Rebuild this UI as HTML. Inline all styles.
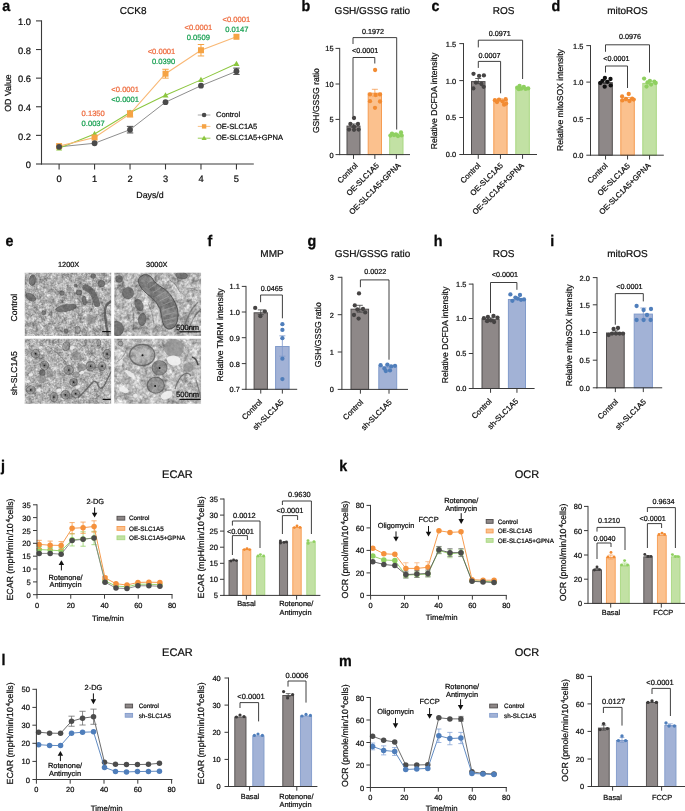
<!DOCTYPE html>
<html><head><meta charset="utf-8"><title>Figure</title>
<style>html,body{margin:0;padding:0;background:#fff;}svg{display:block;will-change:transform;opacity:0.999;font-family:"Liberation Sans",sans-serif;}text{white-space:pre;text-rendering:geometricPrecision;}</style>
</head><body>
<svg width="685" height="811" viewBox="0 0 685 811">
<rect x="0" y="0" width="685" height="811" fill="#ffffff"/>
<text transform="translate(2.2 11.2) scale(0.93 1)" font-size="15.4" font-weight="bold" fill="#0a0a0a" stroke="#0a0a0a" stroke-width="0.3">a</text>
<text transform="translate(301.5 11.2) scale(0.93 1)" font-size="15.4" font-weight="bold" fill="#0a0a0a" stroke="#0a0a0a" stroke-width="0.3">b</text>
<text transform="translate(431.5 11.2) scale(0.93 1)" font-size="15.4" font-weight="bold" fill="#0a0a0a" stroke="#0a0a0a" stroke-width="0.3">c</text>
<text transform="translate(551.5 11.2) scale(0.93 1)" font-size="15.4" font-weight="bold" fill="#0a0a0a" stroke="#0a0a0a" stroke-width="0.3">d</text>
<text transform="translate(5.5 246.2) scale(0.93 1)" font-size="15.4" font-weight="bold" fill="#0a0a0a" stroke="#0a0a0a" stroke-width="0.3">e</text>
<text transform="translate(207.5 246.2) scale(0.93 1)" font-size="15.4" font-weight="bold" fill="#0a0a0a" stroke="#0a0a0a" stroke-width="0.3">f</text>
<text transform="translate(307.5 246.2) scale(0.93 1)" font-size="15.4" font-weight="bold" fill="#0a0a0a" stroke="#0a0a0a" stroke-width="0.3">g</text>
<text transform="translate(433.8 246.2) scale(0.93 1)" font-size="15.4" font-weight="bold" fill="#0a0a0a" stroke="#0a0a0a" stroke-width="0.3">h</text>
<text transform="translate(550.3 246.2) scale(0.93 1)" font-size="15.4" font-weight="bold" fill="#0a0a0a" stroke="#0a0a0a" stroke-width="0.3">i</text>
<text transform="translate(0.9 471.2) scale(0.93 1)" font-size="15.4" font-weight="bold" fill="#0a0a0a" stroke="#0a0a0a" stroke-width="0.3">j</text>
<text transform="translate(339.3 470.8) scale(0.93 1)" font-size="15.4" font-weight="bold" fill="#0a0a0a" stroke="#0a0a0a" stroke-width="0.3">k</text>
<text transform="translate(1.6 665.2) scale(0.93 1)" font-size="15.4" font-weight="bold" fill="#0a0a0a" stroke="#0a0a0a" stroke-width="0.3">l</text>
<text transform="translate(338.9 666) scale(0.93 1)" font-size="15.4" font-weight="bold" fill="#0a0a0a" stroke="#0a0a0a" stroke-width="0.3">m</text>
<text x="133.2" y="13.6" font-size="10" text-anchor="middle" fill="#0d0d0d" stroke="#0d0d0d" stroke-width="0.22" >CCK8</text>
<line x1="41.5" y1="20.35" x2="41.5" y2="164.55" stroke="#3a3a3a" stroke-width="1.1" />
<line x1="36" y1="20.9" x2="41.5" y2="20.9" stroke="#3a3a3a" stroke-width="1.1" />
<text x="31" y="25.15" font-size="9.3" text-anchor="end" fill="#0d0d0d" stroke="#0d0d0d" stroke-width="0.22" >1.0</text>
<line x1="36" y1="49.52" x2="41.5" y2="49.52" stroke="#3a3a3a" stroke-width="1.1" />
<text x="31" y="53.77" font-size="9.3" text-anchor="end" fill="#0d0d0d" stroke="#0d0d0d" stroke-width="0.22" >0.8</text>
<line x1="36" y1="78.14" x2="41.5" y2="78.14" stroke="#3a3a3a" stroke-width="1.1" />
<text x="31" y="82.39" font-size="9.3" text-anchor="end" fill="#0d0d0d" stroke="#0d0d0d" stroke-width="0.22" >0.6</text>
<line x1="36" y1="106.76" x2="41.5" y2="106.76" stroke="#3a3a3a" stroke-width="1.1" />
<text x="31" y="111.01" font-size="9.3" text-anchor="end" fill="#0d0d0d" stroke="#0d0d0d" stroke-width="0.22" >0.4</text>
<line x1="36" y1="135.38" x2="41.5" y2="135.38" stroke="#3a3a3a" stroke-width="1.1" />
<text x="31" y="139.63" font-size="9.3" text-anchor="end" fill="#0d0d0d" stroke="#0d0d0d" stroke-width="0.22" >0.2</text>
<line x1="36" y1="164" x2="41.5" y2="164" stroke="#3a3a3a" stroke-width="1.1" />
<text x="31" y="168.25" font-size="9.3" text-anchor="end" fill="#0d0d0d" stroke="#0d0d0d" stroke-width="0.22" >0</text>
<line x1="40.95" y1="164" x2="253.8" y2="164" stroke="#3a3a3a" stroke-width="1.1" />
<line x1="59.1" y1="164" x2="59.1" y2="169.5" stroke="#3a3a3a" stroke-width="1.1" />
<text x="59.1" y="182.2" font-size="9.3" text-anchor="middle" fill="#0d0d0d" stroke="#0d0d0d" stroke-width="0.22" >0</text>
<line x1="94.57" y1="164" x2="94.57" y2="169.5" stroke="#3a3a3a" stroke-width="1.1" />
<text x="94.57" y="182.2" font-size="9.3" text-anchor="middle" fill="#0d0d0d" stroke="#0d0d0d" stroke-width="0.22" >1</text>
<line x1="130.04" y1="164" x2="130.04" y2="169.5" stroke="#3a3a3a" stroke-width="1.1" />
<text x="130.04" y="182.2" font-size="9.3" text-anchor="middle" fill="#0d0d0d" stroke="#0d0d0d" stroke-width="0.22" >2</text>
<line x1="165.51" y1="164" x2="165.51" y2="169.5" stroke="#3a3a3a" stroke-width="1.1" />
<text x="165.51" y="182.2" font-size="9.3" text-anchor="middle" fill="#0d0d0d" stroke="#0d0d0d" stroke-width="0.22" >3</text>
<line x1="200.98" y1="164" x2="200.98" y2="169.5" stroke="#3a3a3a" stroke-width="1.1" />
<text x="200.98" y="182.2" font-size="9.3" text-anchor="middle" fill="#0d0d0d" stroke="#0d0d0d" stroke-width="0.22" >4</text>
<line x1="236.45" y1="164" x2="236.45" y2="169.5" stroke="#3a3a3a" stroke-width="1.1" />
<text x="236.45" y="182.2" font-size="9.3" text-anchor="middle" fill="#0d0d0d" stroke="#0d0d0d" stroke-width="0.22" >5</text>
<text x="150" y="197.7" font-size="8.8" text-anchor="middle" fill="#0d0d0d" stroke="#0d0d0d" stroke-width="0.22" >Days/d</text>
<text x="11" y="93" font-size="8.8" text-anchor="middle" fill="#0d0d0d" stroke="#0d0d0d" stroke-width="0.22" transform="rotate(-90 11 93)" >OD Value</text>
<polyline points="59.1,146.83 94.57,143.25 130.04,129.66 165.51,102.18 200.98,85.72 236.45,71.27" fill="none" stroke="#8e8e8e" stroke-width="1.0"/>
<polyline points="59.1,148.26 94.57,133.95 130.04,112.48 165.51,95.31 200.98,79.86 236.45,63.83" fill="none" stroke="#8cc63f" stroke-width="1.05"/>
<polyline points="59.1,146.11 94.57,137.53 130.04,113.92 165.51,73.7 200.98,50.24 236.45,36.78" fill="none" stroke="#f9b875" stroke-width="1.1"/>
<line x1="130.04" y1="126.36" x2="130.04" y2="132.95" stroke="#4a4a4a" stroke-width="1" />
<line x1="126.84" y1="126.36" x2="133.24" y2="126.36" stroke="#4a4a4a" stroke-width="1" />
<line x1="126.84" y1="132.95" x2="133.24" y2="132.95" stroke="#4a4a4a" stroke-width="1" />
<line x1="236.45" y1="68.12" x2="236.45" y2="74.42" stroke="#4a4a4a" stroke-width="1" />
<line x1="233.25" y1="68.12" x2="239.65" y2="68.12" stroke="#4a4a4a" stroke-width="1" />
<line x1="233.25" y1="74.42" x2="239.65" y2="74.42" stroke="#4a4a4a" stroke-width="1" />
<line x1="130.04" y1="110.77" x2="130.04" y2="117.06" stroke="#f5a344" stroke-width="1" />
<line x1="126.84" y1="110.77" x2="133.24" y2="110.77" stroke="#f5a344" stroke-width="1" />
<line x1="126.84" y1="117.06" x2="133.24" y2="117.06" stroke="#f5a344" stroke-width="1" />
<line x1="165.51" y1="69.27" x2="165.51" y2="78.14" stroke="#f5a344" stroke-width="1" />
<line x1="162.31" y1="69.27" x2="168.71" y2="69.27" stroke="#f5a344" stroke-width="1" />
<line x1="162.31" y1="78.14" x2="168.71" y2="78.14" stroke="#f5a344" stroke-width="1" />
<line x1="200.98" y1="44.51" x2="200.98" y2="55.96" stroke="#f5a344" stroke-width="1" />
<line x1="197.78" y1="44.51" x2="204.18" y2="44.51" stroke="#f5a344" stroke-width="1" />
<line x1="197.78" y1="55.96" x2="204.18" y2="55.96" stroke="#f5a344" stroke-width="1" />
<polygon points="59.1,145.16 56.1,150.46 62.1,150.46" fill="#8cc63f"/>
<polygon points="94.57,130.85 91.57,136.15 97.57,136.15" fill="#8cc63f"/>
<polygon points="130.04,109.38 127.04,114.68 133.04,114.68" fill="#8cc63f"/>
<polygon points="165.51,92.21 162.51,97.51 168.51,97.51" fill="#8cc63f"/>
<polygon points="200.98,76.76 197.98,82.06 203.98,82.06" fill="#8cc63f"/>
<polygon points="236.45,60.73 233.45,66.03 239.45,66.03" fill="#8cc63f"/>
<rect x="56.1" y="143.11" width="6" height="6" fill="#f5a344" />
<rect x="91.57" y="134.53" width="6" height="6" fill="#f5a344" />
<rect x="127.04" y="110.92" width="6" height="6" fill="#f5a344" />
<rect x="162.51" y="70.7" width="6" height="6" fill="#f5a344" />
<rect x="197.98" y="47.24" width="6" height="6" fill="#f5a344" />
<rect x="233.45" y="33.78" width="6" height="6" fill="#f5a344" />
<circle cx="59.1" cy="146.83" r="2.9" fill="#4a4a4a"/>
<circle cx="94.57" cy="143.25" r="2.9" fill="#4a4a4a"/>
<circle cx="130.04" cy="129.66" r="2.9" fill="#4a4a4a"/>
<circle cx="165.51" cy="102.18" r="2.9" fill="#4a4a4a"/>
<circle cx="200.98" cy="85.72" r="2.9" fill="#4a4a4a"/>
<circle cx="236.45" cy="71.27" r="2.9" fill="#4a4a4a"/>
<text x="93.2" y="116" font-size="7.6" text-anchor="middle" fill="#ee6a3c" stroke="#ee6a3c" stroke-width="0.22" >0.1350</text>
<text x="93.2" y="126.2" font-size="7.6" text-anchor="middle" fill="#159f50" stroke="#159f50" stroke-width="0.22" >0.0037</text>
<text x="125.2" y="91.6" font-size="7.6" text-anchor="middle" fill="#ee6a3c" stroke="#ee6a3c" stroke-width="0.22" >&lt;0.0001</text>
<text x="125.2" y="101.8" font-size="7.6" text-anchor="middle" fill="#159f50" stroke="#159f50" stroke-width="0.22" >&lt;0.0001</text>
<text x="161.5" y="53.7" font-size="7.6" text-anchor="middle" fill="#ee6a3c" stroke="#ee6a3c" stroke-width="0.22" >&lt;0.0001</text>
<text x="163.5" y="64" font-size="7.6" text-anchor="middle" fill="#159f50" stroke="#159f50" stroke-width="0.22" >0.0390</text>
<text x="198.4" y="29.7" font-size="7.6" text-anchor="middle" fill="#ee6a3c" stroke="#ee6a3c" stroke-width="0.22" >&lt;0.0001</text>
<text x="198.4" y="39.8" font-size="7.6" text-anchor="middle" fill="#159f50" stroke="#159f50" stroke-width="0.22" >0.0509</text>
<text x="236.3" y="22" font-size="7.6" text-anchor="middle" fill="#ee6a3c" stroke="#ee6a3c" stroke-width="0.22" >&lt;0.0001</text>
<text x="236.8" y="32.1" font-size="7.6" text-anchor="middle" fill="#159f50" stroke="#159f50" stroke-width="0.22" >0.0147</text>
<line x1="197.8" y1="115" x2="210.4" y2="115" stroke="#9c9c9c" stroke-width="0.9" />
<circle cx="204.1" cy="115" r="2.3" fill="#4a4a4a"/>
<text x="216" y="117.2" font-size="7.5" text-anchor="start" fill="#0d0d0d" stroke="#0d0d0d" stroke-width="0.22" >Control</text>
<line x1="197.8" y1="126.4" x2="210.4" y2="126.4" stroke="#f9b875" stroke-width="0.9" />
<rect x="201.9" y="124.2" width="4.4" height="4.4" fill="#f5a344" />
<text x="216" y="128.6" font-size="7.5" text-anchor="start" fill="#0d0d0d" stroke="#0d0d0d" stroke-width="0.22" >OE-SLC1A5</text>
<line x1="197.8" y1="138.2" x2="210.4" y2="138.2" stroke="#8cc63f" stroke-width="0.9" />
<polygon points="204.1,135.5 201.5,140.1 206.7,140.1" fill="#8cc63f"/>
<text x="216" y="140.4" font-size="7.5" text-anchor="start" fill="#0d0d0d" stroke="#0d0d0d" stroke-width="0.22" >OE-SLC1A5+GPNA</text>
<text x="372.4" y="13.6" font-size="10" text-anchor="middle" fill="#0d0d0d" stroke="#0d0d0d" stroke-width="0.22" >GSH/GSSG ratio</text>
<text x="319" y="100.6" font-size="8.6" text-anchor="middle" fill="#0d0d0d" stroke="#0d0d0d" stroke-width="0.22" transform="rotate(-90 319 100.6)" >GSH/GSSG ratio</text>
<rect x="347" y="126.1" width="13" height="28.5" fill="#8e8888" stroke="#4f4c4c" stroke-width="1" />
<line x1="353.5" y1="124" x2="353.5" y2="127.2" stroke="#3a3a3a" stroke-width="0.8" />
<line x1="350.5" y1="124" x2="356.5" y2="124" stroke="#3a3a3a" stroke-width="0.8" />
<line x1="350.5" y1="127.2" x2="356.5" y2="127.2" stroke="#3a3a3a" stroke-width="0.8" />
<circle cx="354" cy="118" r="2.15" fill="#454343"/>
<circle cx="350.4" cy="124" r="2.15" fill="#454343"/>
<circle cx="358" cy="124" r="2.15" fill="#454343"/>
<circle cx="354" cy="126.6" r="2.15" fill="#454343"/>
<circle cx="349" cy="129.6" r="2.15" fill="#454343"/>
<circle cx="354" cy="129.8" r="2.15" fill="#454343"/>
<circle cx="358.6" cy="129.6" r="2.15" fill="#454343"/>
<rect x="368.2" y="93.2" width="13.3" height="61.4" fill="#fbc18e" stroke="#f69c52" stroke-width="1" />
<line x1="374.85" y1="89.3" x2="374.85" y2="96.1" stroke="#f69c52" stroke-width="0.8" />
<line x1="371.85" y1="89.3" x2="377.85" y2="89.3" stroke="#f69c52" stroke-width="0.8" />
<line x1="371.85" y1="96.1" x2="377.85" y2="96.1" stroke="#f69c52" stroke-width="0.8" />
<circle cx="375.1" cy="70" r="2.15" fill="#f28b32"/>
<circle cx="370" cy="94.4" r="2.15" fill="#f28b32"/>
<circle cx="380" cy="94.4" r="2.15" fill="#f28b32"/>
<circle cx="370" cy="101.2" r="2.15" fill="#f28b32"/>
<circle cx="380" cy="101.5" r="2.15" fill="#f28b32"/>
<circle cx="375" cy="107.8" r="2.15" fill="#f28b32"/>
<circle cx="375.6" cy="95" r="2.15" fill="#f28b32"/>
<rect x="389.7" y="135.2" width="13.3" height="19.4" fill="#c2e1a4" stroke="#a8d880" stroke-width="1" />
<line x1="396.35" y1="133.8" x2="396.35" y2="135.6" stroke="#a8d880" stroke-width="0.8" />
<line x1="393.35" y1="133.8" x2="399.35" y2="133.8" stroke="#a8d880" stroke-width="0.8" />
<line x1="393.35" y1="135.6" x2="399.35" y2="135.6" stroke="#a8d880" stroke-width="0.8" />
<circle cx="392" cy="133.6" r="2.15" fill="#8fd060"/>
<circle cx="396" cy="134.4" r="2.15" fill="#8fd060"/>
<circle cx="401" cy="132.4" r="2.15" fill="#8fd060"/>
<circle cx="390.4" cy="135.6" r="2.15" fill="#8fd060"/>
<circle cx="394" cy="135" r="2.15" fill="#8fd060"/>
<circle cx="398" cy="136" r="2.15" fill="#8fd060"/>
<circle cx="401.6" cy="135.4" r="2.15" fill="#8fd060"/>
<line x1="339.7" y1="47.9" x2="339.7" y2="155.1" stroke="#3a3a3a" stroke-width="1" />
<line x1="335.5" y1="48.4" x2="339.7" y2="48.4" stroke="#3a3a3a" stroke-width="1" />
<text x="333.6" y="51.36" font-size="7.4" text-anchor="end" fill="#0d0d0d" stroke="#0d0d0d" stroke-width="0.22" >15</text>
<line x1="335.5" y1="84" x2="339.7" y2="84" stroke="#3a3a3a" stroke-width="1" />
<text x="333.6" y="86.96" font-size="7.4" text-anchor="end" fill="#0d0d0d" stroke="#0d0d0d" stroke-width="0.22" >10</text>
<line x1="335.5" y1="119.4" x2="339.7" y2="119.4" stroke="#3a3a3a" stroke-width="1" />
<text x="333.6" y="122.36" font-size="7.4" text-anchor="end" fill="#0d0d0d" stroke="#0d0d0d" stroke-width="0.22" >5</text>
<line x1="335.5" y1="154.6" x2="339.7" y2="154.6" stroke="#3a3a3a" stroke-width="1" />
<text x="333.6" y="157.56" font-size="7.4" text-anchor="end" fill="#0d0d0d" stroke="#0d0d0d" stroke-width="0.22" >0</text>
<line x1="339.2" y1="154.6" x2="410" y2="154.6" stroke="#3a3a3a" stroke-width="1" />
<line x1="353.5" y1="154.6" x2="353.5" y2="158.9" stroke="#3a3a3a" stroke-width="1" />
<line x1="374.85" y1="154.6" x2="374.85" y2="158.9" stroke="#3a3a3a" stroke-width="1" />
<line x1="396.35" y1="154.6" x2="396.35" y2="158.9" stroke="#3a3a3a" stroke-width="1" />
<text x="358.2" y="166" font-size="7.75" text-anchor="end" fill="#0d0d0d" stroke="#0d0d0d" stroke-width="0.22" transform="rotate(-45 358.2 166)" >Control</text>
<text x="379.55" y="166" font-size="7.75" text-anchor="end" fill="#0d0d0d" stroke="#0d0d0d" stroke-width="0.22" transform="rotate(-45 379.55 166)" >OE-SLC1A5</text>
<text x="401.05" y="166" font-size="7.75" text-anchor="end" fill="#0d0d0d" stroke="#0d0d0d" stroke-width="0.22" transform="rotate(-45 401.05 166)" >OE-SLC1A5+GPNA</text>
<path d="M353 44V37.6H396.7V129.5" stroke="#2a2a2a" stroke-width="0.9" fill="none" />
<text x="372.9" y="33.8" font-size="7.2" text-anchor="middle" fill="#0d0d0d" stroke="#0d0d0d" stroke-width="0.22" >0.1972</text>
<path d="M353 116V57.5H374.8V63.5" stroke="#2a2a2a" stroke-width="0.9" fill="none" />
<text x="365.1" y="52.6" font-size="7.2" text-anchor="middle" fill="#0d0d0d" stroke="#0d0d0d" stroke-width="0.22" >&lt;0.0001</text>
<text x="503.7" y="13.6" font-size="10" text-anchor="middle" fill="#0d0d0d" stroke="#0d0d0d" stroke-width="0.22" >ROS</text>
<text x="437.3" y="101" font-size="8.6" text-anchor="middle" fill="#0d0d0d" stroke="#0d0d0d" stroke-width="0.22" transform="rotate(-90 437.3 101)" >Relative DCFDA intensity</text>
<rect x="471.5" y="81.6" width="13.5" height="72.9" fill="#8e8888" stroke="#4f4c4c" stroke-width="1" />
<line x1="478.25" y1="78.5" x2="478.25" y2="83.7" stroke="#3a3a3a" stroke-width="0.8" />
<line x1="475.25" y1="78.5" x2="481.25" y2="78.5" stroke="#3a3a3a" stroke-width="0.8" />
<line x1="475.25" y1="83.7" x2="481.25" y2="83.7" stroke="#3a3a3a" stroke-width="0.8" />
<circle cx="473.5" cy="73.8" r="2.15" fill="#454343"/>
<circle cx="479.1" cy="75.9" r="2.15" fill="#454343"/>
<circle cx="483.9" cy="75.4" r="2.15" fill="#454343"/>
<circle cx="475.9" cy="82.6" r="2.15" fill="#454343"/>
<circle cx="481.5" cy="84" r="2.15" fill="#454343"/>
<circle cx="483.7" cy="86.8" r="2.15" fill="#454343"/>
<circle cx="473.3" cy="88.4" r="2.15" fill="#454343"/>
<rect x="493.8" y="100.2" width="13.3" height="54.3" fill="#fbc18e" stroke="#f69c52" stroke-width="1" />
<line x1="500.45" y1="98.8" x2="500.45" y2="100.6" stroke="#f69c52" stroke-width="0.8" />
<line x1="497.45" y1="98.8" x2="503.45" y2="98.8" stroke="#f69c52" stroke-width="0.8" />
<line x1="497.45" y1="100.6" x2="503.45" y2="100.6" stroke="#f69c52" stroke-width="0.8" />
<circle cx="505.7" cy="99.2" r="2.15" fill="#f28b32"/>
<circle cx="499" cy="99.7" r="2.15" fill="#f28b32"/>
<circle cx="494.9" cy="100.2" r="2.15" fill="#f28b32"/>
<circle cx="502.5" cy="101.3" r="2.15" fill="#f28b32"/>
<circle cx="497" cy="102" r="2.15" fill="#f28b32"/>
<circle cx="506.1" cy="103.6" r="2.15" fill="#f28b32"/>
<circle cx="504.1" cy="104.7" r="2.15" fill="#f28b32"/>
<rect x="515.8" y="88.6" width="13.5" height="65.9" fill="#c2e1a4" stroke="#a8d880" stroke-width="1" />
<line x1="522.55" y1="87.3" x2="522.55" y2="88.9" stroke="#a8d880" stroke-width="0.8" />
<line x1="519.55" y1="87.3" x2="525.55" y2="87.3" stroke="#a8d880" stroke-width="0.8" />
<line x1="519.55" y1="88.9" x2="525.55" y2="88.9" stroke="#a8d880" stroke-width="0.8" />
<circle cx="519.6" cy="86" r="2.15" fill="#8fd060"/>
<circle cx="523.8" cy="87" r="2.15" fill="#8fd060"/>
<circle cx="517.2" cy="87.6" r="2.15" fill="#8fd060"/>
<circle cx="528.2" cy="88.4" r="2.15" fill="#8fd060"/>
<circle cx="521.2" cy="88.7" r="2.15" fill="#8fd060"/>
<circle cx="525.6" cy="88.9" r="2.15" fill="#8fd060"/>
<circle cx="518.8" cy="89.2" r="2.15" fill="#8fd060"/>
<line x1="463.5" y1="43.1" x2="463.5" y2="155" stroke="#3a3a3a" stroke-width="1" />
<line x1="459.3" y1="43.6" x2="463.5" y2="43.6" stroke="#3a3a3a" stroke-width="1" />
<text x="456.1" y="46.56" font-size="7.4" text-anchor="end" fill="#0d0d0d" stroke="#0d0d0d" stroke-width="0.22" >1.5</text>
<line x1="459.3" y1="80.6" x2="463.5" y2="80.6" stroke="#3a3a3a" stroke-width="1" />
<text x="456.1" y="83.56" font-size="7.4" text-anchor="end" fill="#0d0d0d" stroke="#0d0d0d" stroke-width="0.22" >1.0</text>
<line x1="459.3" y1="117.5" x2="463.5" y2="117.5" stroke="#3a3a3a" stroke-width="1" />
<text x="456.1" y="120.46" font-size="7.4" text-anchor="end" fill="#0d0d0d" stroke="#0d0d0d" stroke-width="0.22" >0.5</text>
<line x1="459.3" y1="154.5" x2="463.5" y2="154.5" stroke="#3a3a3a" stroke-width="1" />
<text x="456.1" y="157.46" font-size="7.4" text-anchor="end" fill="#0d0d0d" stroke="#0d0d0d" stroke-width="0.22" >0.0</text>
<line x1="463" y1="154.5" x2="537" y2="154.5" stroke="#3a3a3a" stroke-width="1" />
<line x1="478.25" y1="154.5" x2="478.25" y2="158.8" stroke="#3a3a3a" stroke-width="1" />
<line x1="500.45" y1="154.5" x2="500.45" y2="158.8" stroke="#3a3a3a" stroke-width="1" />
<line x1="522.55" y1="154.5" x2="522.55" y2="158.8" stroke="#3a3a3a" stroke-width="1" />
<text x="481.05" y="166" font-size="7.75" text-anchor="end" fill="#0d0d0d" stroke="#0d0d0d" stroke-width="0.22" transform="rotate(-45 481.05 166)" >Control</text>
<text x="503.45" y="166" font-size="7.75" text-anchor="end" fill="#0d0d0d" stroke="#0d0d0d" stroke-width="0.22" transform="rotate(-45 503.45 166)" >OE-SLC1A5</text>
<text x="524.35" y="166" font-size="7.75" text-anchor="end" fill="#0d0d0d" stroke="#0d0d0d" stroke-width="0.22" transform="rotate(-45 524.35 166)" >OE-SLC1A5+GPNA</text>
<path d="M478.3 47.4V40.2H522.6V79" stroke="#2a2a2a" stroke-width="0.9" fill="none" />
<text x="499.8" y="35.9" font-size="7.2" text-anchor="middle" fill="#0d0d0d" stroke="#0d0d0d" stroke-width="0.22" >0.0971</text>
<path d="M478.3 67.9V61.4H500.6V93.3" stroke="#2a2a2a" stroke-width="0.9" fill="none" />
<text x="489.4" y="57.6" font-size="7.2" text-anchor="middle" fill="#0d0d0d" stroke="#0d0d0d" stroke-width="0.22" >0.0007</text>
<text x="627.5" y="13.6" font-size="10" text-anchor="middle" fill="#0d0d0d" stroke="#0d0d0d" stroke-width="0.22" >mitoROS</text>
<text x="563" y="100" font-size="8.6" text-anchor="middle" fill="#0d0d0d" stroke="#0d0d0d" stroke-width="0.22" transform="rotate(-90 563 100)" >Relative mitoSOX intensity</text>
<rect x="598.8" y="82.6" width="13.5" height="72.6" fill="#8e8888" stroke="#4f4c4c" stroke-width="1" />
<line x1="605.55" y1="80.7" x2="605.55" y2="83.5" stroke="#3a3a3a" stroke-width="0.8" />
<line x1="602.55" y1="80.7" x2="608.55" y2="80.7" stroke="#3a3a3a" stroke-width="0.8" />
<line x1="602.55" y1="83.5" x2="608.55" y2="83.5" stroke="#3a3a3a" stroke-width="0.8" />
<circle cx="604.9" cy="78" r="2.15" fill="#101010"/>
<circle cx="610.5" cy="79" r="2.15" fill="#101010"/>
<circle cx="602.5" cy="80.8" r="2.15" fill="#101010"/>
<circle cx="607.5" cy="81.8" r="2.15" fill="#101010"/>
<circle cx="600.3" cy="83" r="2.15" fill="#101010"/>
<circle cx="610.7" cy="85.4" r="2.15" fill="#101010"/>
<circle cx="604.7" cy="86.7" r="2.15" fill="#101010"/>
<rect x="620.8" y="99.7" width="13.5" height="55.5" fill="#fbc18e" stroke="#f69c52" stroke-width="1" />
<line x1="627.55" y1="97.6" x2="627.55" y2="100.8" stroke="#f69c52" stroke-width="0.8" />
<line x1="624.55" y1="97.6" x2="630.55" y2="97.6" stroke="#f69c52" stroke-width="0.8" />
<line x1="624.55" y1="100.8" x2="630.55" y2="100.8" stroke="#f69c52" stroke-width="0.8" />
<circle cx="628.7" cy="94" r="2.15" fill="#f28b32"/>
<circle cx="622.1" cy="96.5" r="2.15" fill="#f28b32"/>
<circle cx="632.1" cy="98.6" r="2.15" fill="#f28b32"/>
<circle cx="625.9" cy="99" r="2.15" fill="#f28b32"/>
<circle cx="633.7" cy="99.6" r="2.15" fill="#f28b32"/>
<circle cx="622.3" cy="100.4" r="2.15" fill="#f28b32"/>
<circle cx="629.5" cy="101" r="2.15" fill="#f28b32"/>
<rect x="642.8" y="83.4" width="13.5" height="71.8" fill="#c2e1a4" stroke="#a8d880" stroke-width="1" />
<line x1="649.55" y1="81.7" x2="649.55" y2="84.1" stroke="#a8d880" stroke-width="0.8" />
<line x1="646.55" y1="81.7" x2="652.55" y2="81.7" stroke="#a8d880" stroke-width="0.8" />
<line x1="646.55" y1="84.1" x2="652.55" y2="84.1" stroke="#a8d880" stroke-width="0.8" />
<circle cx="644.1" cy="78.6" r="2.15" fill="#8fd060"/>
<circle cx="649.9" cy="80.8" r="2.15" fill="#8fd060"/>
<circle cx="654.3" cy="81.6" r="2.15" fill="#8fd060"/>
<circle cx="647.5" cy="82.4" r="2.15" fill="#8fd060"/>
<circle cx="655.7" cy="83" r="2.15" fill="#8fd060"/>
<circle cx="651.1" cy="84.6" r="2.15" fill="#8fd060"/>
<circle cx="646.5" cy="86.6" r="2.15" fill="#8fd060"/>
<line x1="590.5" y1="45.1" x2="590.5" y2="155.7" stroke="#3a3a3a" stroke-width="1" />
<line x1="586.3" y1="45.6" x2="590.5" y2="45.6" stroke="#3a3a3a" stroke-width="1" />
<text x="583.3" y="48.56" font-size="7.4" text-anchor="end" fill="#0d0d0d" stroke="#0d0d0d" stroke-width="0.22" >1.5</text>
<line x1="586.3" y1="82.1" x2="590.5" y2="82.1" stroke="#3a3a3a" stroke-width="1" />
<text x="583.3" y="85.06" font-size="7.4" text-anchor="end" fill="#0d0d0d" stroke="#0d0d0d" stroke-width="0.22" >1.0</text>
<line x1="586.3" y1="118.6" x2="590.5" y2="118.6" stroke="#3a3a3a" stroke-width="1" />
<text x="583.3" y="121.56" font-size="7.4" text-anchor="end" fill="#0d0d0d" stroke="#0d0d0d" stroke-width="0.22" >0.5</text>
<line x1="586.3" y1="155.2" x2="590.5" y2="155.2" stroke="#3a3a3a" stroke-width="1" />
<text x="583.3" y="158.16" font-size="7.4" text-anchor="end" fill="#0d0d0d" stroke="#0d0d0d" stroke-width="0.22" >0.0</text>
<line x1="590" y1="155.2" x2="663.8" y2="155.2" stroke="#3a3a3a" stroke-width="1" />
<line x1="605.55" y1="155.2" x2="605.55" y2="159.5" stroke="#3a3a3a" stroke-width="1" />
<line x1="627.55" y1="155.2" x2="627.55" y2="159.5" stroke="#3a3a3a" stroke-width="1" />
<line x1="649.55" y1="155.2" x2="649.55" y2="159.5" stroke="#3a3a3a" stroke-width="1" />
<text x="608.15" y="166.2" font-size="7.75" text-anchor="end" fill="#0d0d0d" stroke="#0d0d0d" stroke-width="0.22" transform="rotate(-45 608.15 166.2)" >Control</text>
<text x="630.55" y="166.2" font-size="7.75" text-anchor="end" fill="#0d0d0d" stroke="#0d0d0d" stroke-width="0.22" transform="rotate(-45 630.55 166.2)" >OE-SLC1A5</text>
<text x="651.05" y="166.2" font-size="7.75" text-anchor="end" fill="#0d0d0d" stroke="#0d0d0d" stroke-width="0.22" transform="rotate(-45 651.05 166.2)" >OE-SLC1A5+GPNA</text>
<path d="M605.5 51.8V44.8H649.5V72.5" stroke="#2a2a2a" stroke-width="0.9" fill="none" />
<text x="630.1" y="39.2" font-size="7.2" text-anchor="middle" fill="#0d0d0d" stroke="#0d0d0d" stroke-width="0.22" >0.0976</text>
<path d="M605.5 72.5V66H627.5V88" stroke="#2a2a2a" stroke-width="0.9" fill="none" />
<text x="616.4" y="60.8" font-size="7.2" text-anchor="middle" fill="#0d0d0d" stroke="#0d0d0d" stroke-width="0.22" >&lt;0.0001</text>
<defs>
<filter id="nzA" x="0" y="0" width="100%" height="100%" color-interpolation-filters="sRGB">
<feTurbulence type="fractalNoise" baseFrequency="0.55" numOctaves="2" seed="3" result="n1"/>
<feTurbulence type="fractalNoise" baseFrequency="0.18" numOctaves="2" seed="8" result="n2"/>
<feColorMatrix in="n1" type="matrix" values="0.47 0 0 0 0.200  0.47 0 0 0 0.200  0.47 0 0 0 0.200  0 0 0 0 1" result="g1"/>
<feColorMatrix in="n2" type="matrix" values="0.5 0 0 0 0  0.5 0 0 0 0  0.5 0 0 0 0  0 0 0 0 1" result="g2"/>
<feComposite in="g1" in2="g2" operator="arithmetic" k1="0" k2="1" k3="1" k4="0"/>
</filter>
<filter id="nzB" x="0" y="0" width="100%" height="100%" color-interpolation-filters="sRGB">
<feTurbulence type="fractalNoise" baseFrequency="0.4" numOctaves="2" seed="9" result="n1"/>
<feTurbulence type="fractalNoise" baseFrequency="0.12" numOctaves="2" seed="14" result="n2"/>
<feColorMatrix in="n1" type="matrix" values="0.48 0 0 0 0.190  0.48 0 0 0 0.190  0.48 0 0 0 0.190  0 0 0 0 1" result="g1"/>
<feColorMatrix in="n2" type="matrix" values="0.55 0 0 0 0  0.55 0 0 0 0  0.55 0 0 0 0  0 0 0 0 1" result="g2"/>
<feComposite in="g1" in2="g2" operator="arithmetic" k1="0" k2="1" k3="1" k4="0"/>
</filter>
<filter id="nzC" x="0" y="0" width="100%" height="100%" color-interpolation-filters="sRGB">
<feTurbulence type="fractalNoise" baseFrequency="0.55" numOctaves="2" seed="14" result="n1"/>
<feTurbulence type="fractalNoise" baseFrequency="0.18" numOctaves="2" seed="19" result="n2"/>
<feColorMatrix in="n1" type="matrix" values="0.47 0 0 0 0.210  0.47 0 0 0 0.210  0.47 0 0 0 0.210  0 0 0 0 1" result="g1"/>
<feColorMatrix in="n2" type="matrix" values="0.5 0 0 0 0  0.5 0 0 0 0  0.5 0 0 0 0  0 0 0 0 1" result="g2"/>
<feComposite in="g1" in2="g2" operator="arithmetic" k1="0" k2="1" k3="1" k4="0"/>
</filter>
<filter id="nzD" x="0" y="0" width="100%" height="100%" color-interpolation-filters="sRGB">
<feTurbulence type="fractalNoise" baseFrequency="0.4" numOctaves="2" seed="21" result="n1"/>
<feTurbulence type="fractalNoise" baseFrequency="0.12" numOctaves="2" seed="26" result="n2"/>
<feColorMatrix in="n1" type="matrix" values="0.46 0 0 0 0.215  0.46 0 0 0 0.215  0.46 0 0 0 0.215  0 0 0 0 1" result="g1"/>
<feColorMatrix in="n2" type="matrix" values="0.55 0 0 0 0  0.55 0 0 0 0  0.55 0 0 0 0  0 0 0 0 1" result="g2"/>
<feComposite in="g1" in2="g2" operator="arithmetic" k1="0" k2="1" k3="1" k4="0"/>
</filter>
<filter id="bl" x="-20%" y="-20%" width="140%" height="140%"><feGaussianBlur stdDeviation="0.55"/></filter>
<filter id="bl2" x="-20%" y="-20%" width="140%" height="140%"><feGaussianBlur stdDeviation="0.9"/></filter>
<clipPath id="cTL"><rect x="24.75" y="272.75" width="86.42" height="63.2"/></clipPath>
<clipPath id="cTR"><rect x="114.25" y="272.75" width="86.8" height="63.2"/></clipPath>
<clipPath id="cBL"><rect x="24.75" y="338.8" width="86.42" height="65.05"/></clipPath>
<clipPath id="cBR"><rect x="114.25" y="338.8" width="86.8" height="65.05"/></clipPath>
</defs>
<text x="68.6" y="267.3" font-size="7.4" text-anchor="middle" fill="#0d0d0d" stroke="#0d0d0d" stroke-width="0.22" >1200X</text>
<text x="156.8" y="267.3" font-size="7.4" text-anchor="middle" fill="#0d0d0d" stroke="#0d0d0d" stroke-width="0.22" >3000X</text>
<text x="16.6" y="307.6" font-size="8.6" text-anchor="middle" fill="#0d0d0d" stroke="#0d0d0d" stroke-width="0.22" transform="rotate(-90 16.6 307.6)" >Control</text>
<text x="16.6" y="373.3" font-size="8.6" text-anchor="middle" fill="#0d0d0d" stroke="#0d0d0d" stroke-width="0.22" transform="rotate(-90 16.6 373.3)" >sh-SLC1A5</text>
<g clip-path="url(#cTL)">
<rect x="24" y="272" width="88" height="65" fill="#aaa" filter="url(#nzA)"/>
<g filter="url(#bl)">
<ellipse cx="32.5" cy="280.2" rx="3.3" ry="5.4" transform="rotate(8 32.5 280.2)" fill="#545454" fill-opacity="0.68" stroke="#454545" stroke-opacity="0.7" stroke-width="0.6"/>
<ellipse cx="30.8" cy="297.2" rx="5.6" ry="3.2" transform="rotate(32 30.8 297.2)" fill="#545454" fill-opacity="0.68" stroke="#454545" stroke-opacity="0.7" stroke-width="0.6"/>
<ellipse cx="66.1" cy="308" rx="10.6" ry="3.4" transform="rotate(-10 66.1 308)" fill="#545454" fill-opacity="0.68" stroke="#454545" stroke-opacity="0.7" stroke-width="0.6"/>
<ellipse cx="62" cy="293.1" rx="2.5" ry="2.3" transform="rotate(0 62 293.1)" fill="#545454" fill-opacity="0.68" stroke="#454545" stroke-opacity="0.7" stroke-width="0.6"/>
<ellipse cx="75.6" cy="285.6" rx="1.5" ry="1.5" transform="rotate(0 75.6 285.6)" fill="#545454" fill-opacity="0.68" stroke="#454545" stroke-opacity="0.7" stroke-width="0.6"/>
<ellipse cx="79" cy="292.4" rx="2.9" ry="2.7" transform="rotate(0 79 292.4)" fill="#545454" fill-opacity="0.68" stroke="#454545" stroke-opacity="0.7" stroke-width="0.6"/>
<path d="M85.5 287.5 Q93 289 97 304" stroke="#505050" stroke-opacity="0.72" stroke-width="6.2" stroke-linecap="round" fill="none"/>
<ellipse cx="84.4" cy="300.6" rx="1.9" ry="4.8" transform="rotate(-8 84.4 300.6)" fill="#545454" fill-opacity="0.68" stroke="#454545" stroke-opacity="0.7" stroke-width="0.6"/>
<ellipse cx="93.3" cy="276.1" rx="2.5" ry="2.4" transform="rotate(0 93.3 276.1)" fill="#545454" fill-opacity="0.68" stroke="#454545" stroke-opacity="0.7" stroke-width="0.6"/>
<ellipse cx="101.4" cy="283.6" rx="3.4" ry="3.4" transform="rotate(0 101.4 283.6)" fill="#545454" fill-opacity="0.68" stroke="#454545" stroke-opacity="0.7" stroke-width="0.6"/>
<ellipse cx="43.7" cy="312.8" rx="2.1" ry="2.2" transform="rotate(0 43.7 312.8)" fill="#545454" fill-opacity="0.68" stroke="#454545" stroke-opacity="0.7" stroke-width="0.6"/>
<ellipse cx="91.2" cy="319.6" rx="4.4" ry="4.3" transform="rotate(0 91.2 319.6)" fill="#8c8c8c" fill-opacity="0.55" stroke="#777" stroke-opacity="0.7" stroke-width="0.4"/>
<ellipse cx="66.1" cy="331.1" rx="2.1" ry="2.1" transform="rotate(0 66.1 331.1)" fill="#545454" fill-opacity="0.68" stroke="#454545" stroke-opacity="0.7" stroke-width="0.6"/>
<ellipse cx="77.7" cy="329.8" rx="2.8" ry="3.8" transform="rotate(0 77.7 329.8)" fill="#777" fill-opacity="0.5" stroke="#454545" stroke-opacity="0.7" stroke-width="0.6"/>
<path d="M111.5 301 Q103.5 305 105 315 Q106.5 327 108 336" stroke="#4a4a4a" stroke-opacity="0.75" stroke-width="2.4" fill="none"/>
</g></g>
<line x1="102.2" y1="331.6" x2="110.7" y2="331.6" stroke="#111" stroke-width="1.25" />
<g clip-path="url(#cTR)">
<rect x="114" y="272" width="88" height="65" fill="#aaa" filter="url(#nzB)"/>
<g filter="url(#bl)">
<path d="M140.2 276.8 Q143.5 273.6 147.7 274.8 Q152 276.5 154.4 281.6 Q159 286 165.3 289.7 Q171.5 294.5 174.8 301.9 Q178.6 309 178.2 315.5 Q178 322.5 174.8 326.4 Q171.5 329.8 168 329.1 Q164 327.5 162.6 322.3 Q161.5 315 159.9 308.7 Q157 302.5 151.7 297.9 Q146 293.5 141.5 288.4 Q138.5 284.5 138.2 280.9 Q138.6 278.4 140.2 276.8Z" fill="#585858" fill-opacity="0.6" stroke="#3c3c3c" stroke-opacity="0.8" stroke-width="0.9"/>
<path d="M147 284L152.5 279.5" stroke="#b8b8b8" stroke-opacity="0.55" stroke-width="0.8"/>
<path d="M149.5 288.5L156.5 283.5" stroke="#b8b8b8" stroke-opacity="0.55" stroke-width="0.8"/>
<path d="M153 292.5L161 287.5" stroke="#b8b8b8" stroke-opacity="0.55" stroke-width="0.8"/>
<path d="M156.5 296.5L165.5 291.5" stroke="#b8b8b8" stroke-opacity="0.55" stroke-width="0.8"/>
<path d="M159.5 301L169.5 296" stroke="#b8b8b8" stroke-opacity="0.55" stroke-width="0.8"/>
<path d="M161.5 305.5L172.5 301" stroke="#b8b8b8" stroke-opacity="0.55" stroke-width="0.8"/>
<path d="M162.5 310.5L174.5 306.5" stroke="#b8b8b8" stroke-opacity="0.55" stroke-width="0.8"/>
<path d="M163.5 315.5L175.5 312" stroke="#b8b8b8" stroke-opacity="0.55" stroke-width="0.8"/>
<path d="M164.5 320.5L175.5 317.5" stroke="#b8b8b8" stroke-opacity="0.55" stroke-width="0.8"/>
<path d="M166 325L174 322.5" stroke="#b8b8b8" stroke-opacity="0.55" stroke-width="0.8"/>
<ellipse cx="128" cy="293.1" rx="5.7" ry="5.6" transform="rotate(0 128 293.1)" fill="#545454" fill-opacity="0.68" stroke="#454545" stroke-opacity="0.7" stroke-width="0.6"/>
<ellipse cx="119.1" cy="278.9" rx="3.4" ry="3.4" transform="rotate(0 119.1 278.9)" fill="#545454" fill-opacity="0.68" stroke="#454545" stroke-opacity="0.7" stroke-width="0.6"/>
<ellipse cx="139" cy="305" rx="3.8" ry="6" transform="rotate(-25 139 305)" fill="#545454" fill-opacity="0.68" stroke="#454545" stroke-opacity="0.7" stroke-width="0.6"/>
<ellipse cx="142.3" cy="319.5" rx="3.8" ry="6.2" transform="rotate(8 142.3 319.5)" fill="#545454" fill-opacity="0.68" stroke="#454545" stroke-opacity="0.7" stroke-width="0.6"/>
<ellipse cx="117" cy="328.5" rx="6.5" ry="7.2" transform="rotate(-20 117 328.5)" fill="#545454" fill-opacity="0.68" stroke="#454545" stroke-opacity="0.7" stroke-width="0.6"/>
<ellipse cx="181.6" cy="275.5" rx="6" ry="3.4" transform="rotate(8 181.6 275.5)" fill="#545454" fill-opacity="0.68" stroke="#454545" stroke-opacity="0.7" stroke-width="0.6"/>
<path d="M183 331 Q187 313 198 302" stroke="#5a5a5a" stroke-opacity="0.6" stroke-width="1.3" fill="none"/>
<path d="M188 334 Q191 318 201 309" stroke="#5a5a5a" stroke-opacity="0.6" stroke-width="1.1" fill="none"/>
<path d="M131 304 Q135.5 316 133 330" stroke="#5a5a5a" stroke-opacity="0.5" stroke-width="1.0" fill="none"/>
<path d="M170 280 Q176 283 180 292" stroke="#5a5a5a" stroke-opacity="0.5" stroke-width="1.0" fill="none"/>
<path d="M186 289 Q193 287 198 291" stroke="#5a5a5a" stroke-opacity="0.5" stroke-width="1.0" fill="none"/>
<path d="M148 303 Q153 312 154 324" stroke="#5a5a5a" stroke-opacity="0.45" stroke-width="1.0" fill="none"/>
</g></g>
<text x="187.6" y="330" font-size="7.55" text-anchor="middle" fill="#0a0a0a" stroke="#0a0a0a" stroke-width="0.22" >500nm</text>
<line x1="179.4" y1="331.8" x2="200.6" y2="331.8" stroke="#111" stroke-width="1.2" />
<g clip-path="url(#cBL)">
<rect x="24" y="338" width="88" height="67" fill="#aaa" filter="url(#nzC)"/>
<g filter="url(#bl)">
<ellipse cx="35.6" cy="353.7" rx="4.3" ry="4.3" fill="#6e6e6e" fill-opacity="0.42" stroke="#505050" stroke-opacity="0.6" stroke-width="0.9"/>
<ellipse cx="35.6" cy="353.7" rx="2.24" ry="2.24" fill="#5a5a5a" fill-opacity="0.4"/>
<circle cx="35.6" cy="353.7" r="0.85" fill="#1c1c1c"/>
<ellipse cx="44.4" cy="365.5" rx="4.2" ry="4.6" fill="#6e6e6e" fill-opacity="0.42" stroke="#505050" stroke-opacity="0.6" stroke-width="0.9"/>
<ellipse cx="44.4" cy="365.5" rx="2.18" ry="2.39" fill="#5a5a5a" fill-opacity="0.4"/>
<circle cx="44.4" cy="365.5" r="0.85" fill="#1c1c1c"/>
<ellipse cx="68.8" cy="370" rx="4.8" ry="4.6" fill="#6e6e6e" fill-opacity="0.42" stroke="#505050" stroke-opacity="0.6" stroke-width="0.9"/>
<ellipse cx="68.8" cy="370" rx="2.5" ry="2.39" fill="#5a5a5a" fill-opacity="0.4"/>
<circle cx="68.8" cy="370" r="0.85" fill="#1c1c1c"/>
<ellipse cx="90.6" cy="366.2" rx="4.8" ry="4.8" fill="#6e6e6e" fill-opacity="0.42" stroke="#505050" stroke-opacity="0.6" stroke-width="0.9"/>
<ellipse cx="90.6" cy="366.2" rx="2.5" ry="2.5" fill="#5a5a5a" fill-opacity="0.4"/>
<circle cx="90.6" cy="366.2" r="0.85" fill="#1c1c1c"/>
<ellipse cx="102.1" cy="366.2" rx="3.4" ry="4.4" fill="#6e6e6e" fill-opacity="0.42" stroke="#505050" stroke-opacity="0.6" stroke-width="0.9"/>
<ellipse cx="102.1" cy="366.2" rx="1.77" ry="2.29" fill="#5a5a5a" fill-opacity="0.4"/>
<circle cx="102.1" cy="366.2" r="0.85" fill="#1c1c1c"/>
<ellipse cx="107.1" cy="354.1" rx="3.8" ry="4.8" fill="#6e6e6e" fill-opacity="0.42" stroke="#505050" stroke-opacity="0.6" stroke-width="0.9"/>
<ellipse cx="107.1" cy="354.1" rx="1.98" ry="2.5" fill="#5a5a5a" fill-opacity="0.4"/>
<circle cx="107.1" cy="354.1" r="0.85" fill="#1c1c1c"/>
<ellipse cx="73.6" cy="382.2" rx="3.8" ry="3.8" fill="#6e6e6e" fill-opacity="0.42" stroke="#505050" stroke-opacity="0.6" stroke-width="0.9"/>
<ellipse cx="73.6" cy="382.2" rx="1.98" ry="1.98" fill="#5a5a5a" fill-opacity="0.4"/>
<circle cx="73.6" cy="382.2" r="0.85" fill="#1c1c1c"/>
<ellipse cx="30.8" cy="389.9" rx="4.4" ry="4.2" fill="#6e6e6e" fill-opacity="0.42" stroke="#505050" stroke-opacity="0.6" stroke-width="0.9"/>
<ellipse cx="30.8" cy="389.9" rx="2.29" ry="2.18" fill="#5a5a5a" fill-opacity="0.4"/>
<circle cx="30.8" cy="389.9" r="0.85" fill="#1c1c1c"/>
<ellipse cx="53.9" cy="397.1" rx="3.8" ry="4.8" fill="#6e6e6e" fill-opacity="0.42" stroke="#505050" stroke-opacity="0.6" stroke-width="0.9"/>
<ellipse cx="53.9" cy="397.1" rx="1.98" ry="2.5" fill="#5a5a5a" fill-opacity="0.4"/>
<circle cx="53.9" cy="397.1" r="0.85" fill="#1c1c1c"/>
<ellipse cx="65.4" cy="394.8" rx="4.3" ry="4.3" fill="#6e6e6e" fill-opacity="0.42" stroke="#505050" stroke-opacity="0.6" stroke-width="0.9"/>
<ellipse cx="65.4" cy="394.8" rx="2.24" ry="2.24" fill="#5a5a5a" fill-opacity="0.4"/>
<circle cx="65.4" cy="394.8" r="0.85" fill="#1c1c1c"/>
<ellipse cx="75.6" cy="393.7" rx="4" ry="4" fill="#6e6e6e" fill-opacity="0.42" stroke="#505050" stroke-opacity="0.6" stroke-width="0.9"/>
<ellipse cx="75.6" cy="393.7" rx="2.08" ry="2.08" fill="#5a5a5a" fill-opacity="0.4"/>
<circle cx="75.6" cy="393.7" r="0.85" fill="#1c1c1c"/>
<ellipse cx="42.4" cy="372.7" rx="2.9" ry="2.9" transform="rotate(0 42.4 372.7)" fill="#545454" fill-opacity="0.68" stroke="#454545" stroke-opacity="0.7" stroke-width="0.6"/>
<ellipse cx="66.1" cy="346.2" rx="3.4" ry="4.4" transform="rotate(15 66.1 346.2)" fill="#777" fill-opacity="0.45" stroke="#454545" stroke-opacity="0.7" stroke-width="0.6"/>
<ellipse cx="98.7" cy="342.8" rx="2.1" ry="3.4" transform="rotate(0 98.7 342.8)" fill="#777" fill-opacity="0.45" stroke="#454545" stroke-opacity="0.7" stroke-width="0.6"/>
<ellipse cx="41.7" cy="378.8" rx="4.4" ry="4" transform="rotate(0 41.7 378.8)" fill="#808080" fill-opacity="0.5" stroke="#777" stroke-opacity="0.7" stroke-width="0.3"/>
<ellipse cx="49.8" cy="374" rx="3.4" ry="3.2" transform="rotate(0 49.8 374)" fill="#808080" fill-opacity="0.5" stroke="#777" stroke-opacity="0.7" stroke-width="0.3"/>
<ellipse cx="76.3" cy="355.7" rx="4.6" ry="4.2" transform="rotate(0 76.3 355.7)" fill="#808080" fill-opacity="0.5" stroke="#777" stroke-opacity="0.7" stroke-width="0.3"/>
<ellipse cx="81.7" cy="367.3" rx="4.4" ry="3.4" transform="rotate(0 81.7 367.3)" fill="#808080" fill-opacity="0.5" stroke="#777" stroke-opacity="0.7" stroke-width="0.3"/>
<ellipse cx="76.3" cy="374.7" rx="3.2" ry="3" transform="rotate(0 76.3 374.7)" fill="#808080" fill-opacity="0.5" stroke="#777" stroke-opacity="0.7" stroke-width="0.3"/>
<ellipse cx="72.2" cy="347.6" rx="2.6" ry="1.8" transform="rotate(-15 72.2 347.6)" fill="#f2f2f2" fill-opacity="0.85"/>
<ellipse cx="81.7" cy="372.7" rx="2.6" ry="1.6" transform="rotate(-15 81.7 372.7)" fill="#f2f2f2" fill-opacity="0.85"/>
<ellipse cx="30.8" cy="374.7" rx="2.2" ry="1.6" transform="rotate(-15 30.8 374.7)" fill="#f2f2f2" fill-opacity="0.85"/>
<ellipse cx="28.1" cy="381.5" rx="2" ry="1.5" transform="rotate(-15 28.1 381.5)" fill="#f2f2f2" fill-opacity="0.85"/>
<ellipse cx="58.7" cy="390.3" rx="2.6" ry="1.7" transform="rotate(-15 58.7 390.3)" fill="#f2f2f2" fill-opacity="0.85"/>
<ellipse cx="77.7" cy="387" rx="2.4" ry="1.5" transform="rotate(-15 77.7 387)" fill="#f2f2f2" fill-opacity="0.85"/>
<ellipse cx="39" cy="389.7" rx="2" ry="1.6" transform="rotate(-15 39 389.7)" fill="#f2f2f2" fill-opacity="0.85"/>
<ellipse cx="40.5" cy="347.5" rx="1.8" ry="1.3" transform="rotate(-15 40.5 347.5)" fill="#f2f2f2" fill-opacity="0.85"/>
<path d="M78 398 Q86 390 92 383 Q96 379 98 385 Q100 391 104 386 Q108 378 111.5 371" stroke="#505050" stroke-opacity="0.7" stroke-width="1.4" fill="none"/>
<path d="M46 345 Q58 352 66 362" stroke="#5a5a5a" stroke-opacity="0.45" stroke-width="1.0" fill="none"/>
<path d="M52 341 Q64 348 72 360" stroke="#5a5a5a" stroke-opacity="0.4" stroke-width="0.9" fill="none"/>
<path d="M84 340 Q88 352 96 358" stroke="#5a5a5a" stroke-opacity="0.45" stroke-width="1.0" fill="none"/>
</g></g>
<line x1="102.6" y1="399.4" x2="110.7" y2="399.4" stroke="#111" stroke-width="1.25" />
<g clip-path="url(#cBR)">
<rect x="114" y="338" width="88" height="67" fill="#aaa" filter="url(#nzD)"/>
<g filter="url(#bl)">
<ellipse cx="174.1" cy="348.3" rx="9.8" ry="9.2" fill="#909090" fill-opacity="0.75"/>
<path d="M166.5 358 Q170 355 174 355.5 Q178 356 180 358.5 Q181.5 361 180 364 Q176 366.5 172 365.5 Q167.5 364 166.5 358Z" fill="#f4f4f4" fill-opacity="0.92"/>
<ellipse cx="142.2" cy="355" rx="12.6" ry="10.6" fill="#777" fill-opacity="0.35" stroke="#4c4c4c" stroke-opacity="0.65" stroke-width="1.3"/>
<ellipse cx="143.5" cy="354" rx="7.5" ry="6" fill="#d0d0d0" fill-opacity="0.35"/>
<circle cx="142.5" cy="355.3" r="1" fill="#151515"/>
<ellipse cx="159.6" cy="367.9" rx="7.5" ry="7.3" fill="#5c5c5c" fill-opacity="0.55" stroke="#4c4c4c" stroke-opacity="0.6" stroke-width="0.9"/>
<circle cx="159.6" cy="368" r="1" fill="#151515"/>
<ellipse cx="155.8" cy="385.3" rx="8.6" ry="8.0" fill="#6a6a6a" fill-opacity="0.45" stroke="#4c4c4c" stroke-opacity="0.65" stroke-width="1.1"/>
<circle cx="155.1" cy="385.9" r="1" fill="#151515"/>
<ellipse cx="166.7" cy="395.1" rx="6.2" ry="3.8" transform="rotate(-25 166.7 395.1)" fill="#f2f2f2" fill-opacity="0.9"/>
<ellipse cx="130" cy="374" rx="6" ry="2.2" transform="rotate(38 130 374)" fill="#f2f2f2" fill-opacity="0.85"/>
<ellipse cx="123.9" cy="389.7" rx="4.8" ry="2.8" transform="rotate(25 123.9 389.7)" fill="#f2f2f2" fill-opacity="0.85"/>
<ellipse cx="135.4" cy="395.8" rx="2.4" ry="2" transform="rotate(0 135.4 395.8)" fill="#f2f2f2" fill-opacity="0.8"/>
<ellipse cx="121" cy="362.5" rx="1.8" ry="3.2" transform="rotate(10 121 362.5)" fill="#f2f2f2" fill-opacity="0.6"/>
<ellipse cx="188.4" cy="367.3" rx="5" ry="4.6" transform="rotate(0 188.4 367.3)" fill="#8a8a8a" fill-opacity="0.6" stroke="#888" stroke-opacity="0.7" stroke-width="0.3"/>
<path d="M192 357 Q196.5 358 198 365" stroke="#2a2a2a" stroke-opacity="0.8" stroke-width="1.5" fill="none"/>
<path d="M175 389 Q178 378 184 374 Q189 372 191 376" stroke="#555" stroke-opacity="0.7" stroke-width="1.3" fill="none"/>
<path d="M117 362 Q124 358 127 348" stroke="#5a5a5a" stroke-opacity="0.5" stroke-width="1.0" fill="none"/>
<path d="M196 380 Q199 390 200.6 398" stroke="#555" stroke-opacity="0.6" stroke-width="1.3" fill="none"/>
<ellipse cx="120.5" cy="343.5" rx="2.4" ry="2.4" transform="rotate(0 120.5 343.5)" fill="#777" fill-opacity="0.4" stroke="#454545" stroke-opacity="0.7" stroke-width="0.6"/>
</g></g>
<text x="187.6" y="396.8" font-size="7.55" text-anchor="middle" fill="#0a0a0a" stroke="#0a0a0a" stroke-width="0.22" >500nm</text>
<line x1="179.4" y1="399.4" x2="200.6" y2="399.4" stroke="#111" stroke-width="1.2" />
<text x="272" y="256.6" font-size="10" text-anchor="middle" fill="#0d0d0d" stroke="#0d0d0d" stroke-width="0.22" >MMP</text>
<text x="222.9" y="335" font-size="8.6" text-anchor="middle" fill="#0d0d0d" stroke="#0d0d0d" stroke-width="0.22" transform="rotate(-90 222.9 335)" >Relative TMRM intensity</text>
<rect x="254.1" y="312.8" width="13.3" height="76.5" fill="#8e8888" stroke="#4f4c4c" stroke-width="1" />
<line x1="260.75" y1="309.9" x2="260.75" y2="314.7" stroke="#3a3a3a" stroke-width="0.8" />
<line x1="257.75" y1="309.9" x2="263.75" y2="309.9" stroke="#3a3a3a" stroke-width="0.8" />
<line x1="257.75" y1="314.7" x2="263.75" y2="314.7" stroke="#3a3a3a" stroke-width="0.8" />
<circle cx="255.2" cy="307.9" r="2.15" fill="#454343"/>
<circle cx="264.8" cy="311.3" r="2.15" fill="#454343"/>
<circle cx="260.4" cy="316.2" r="2.15" fill="#454343"/>
<rect x="275.6" y="346.5" width="13.5" height="42.8" fill="#a2b2d6" stroke="#819bcb" stroke-width="1" />
<line x1="282.35" y1="335.8" x2="282.35" y2="356.2" stroke="#819bcb" stroke-width="0.8" />
<line x1="279.35" y1="335.8" x2="285.35" y2="335.8" stroke="#819bcb" stroke-width="0.8" />
<line x1="279.35" y1="356.2" x2="285.35" y2="356.2" stroke="#819bcb" stroke-width="0.8" />
<circle cx="282.4" cy="324.2" r="2.15" fill="#4f7ebb"/>
<circle cx="282.4" cy="329.9" r="2.15" fill="#4f7ebb"/>
<circle cx="282.4" cy="338.2" r="2.15" fill="#4f7ebb"/>
<circle cx="282.4" cy="358.7" r="2.15" fill="#4f7ebb"/>
<circle cx="282.4" cy="379.1" r="2.15" fill="#4f7ebb"/>
<line x1="246" y1="285.9" x2="246" y2="389.8" stroke="#3a3a3a" stroke-width="1" />
<line x1="241.8" y1="286.4" x2="246" y2="286.4" stroke="#3a3a3a" stroke-width="1" />
<text x="239.9" y="289.36" font-size="7.4" text-anchor="end" fill="#0d0d0d" stroke="#0d0d0d" stroke-width="0.22" >1.1</text>
<line x1="241.8" y1="312" x2="246" y2="312" stroke="#3a3a3a" stroke-width="1" />
<text x="239.9" y="314.96" font-size="7.4" text-anchor="end" fill="#0d0d0d" stroke="#0d0d0d" stroke-width="0.22" >1.0</text>
<line x1="241.8" y1="337.7" x2="246" y2="337.7" stroke="#3a3a3a" stroke-width="1" />
<text x="239.9" y="340.66" font-size="7.4" text-anchor="end" fill="#0d0d0d" stroke="#0d0d0d" stroke-width="0.22" >0.9</text>
<line x1="241.8" y1="363.6" x2="246" y2="363.6" stroke="#3a3a3a" stroke-width="1" />
<text x="239.9" y="366.56" font-size="7.4" text-anchor="end" fill="#0d0d0d" stroke="#0d0d0d" stroke-width="0.22" >0.8</text>
<line x1="241.8" y1="389.3" x2="246" y2="389.3" stroke="#3a3a3a" stroke-width="1" />
<text x="239.9" y="392.26" font-size="7.4" text-anchor="end" fill="#0d0d0d" stroke="#0d0d0d" stroke-width="0.22" >0.7</text>
<line x1="245.5" y1="389.3" x2="297.2" y2="389.3" stroke="#3a3a3a" stroke-width="1" />
<line x1="260.75" y1="389.3" x2="260.75" y2="393.6" stroke="#3a3a3a" stroke-width="1" />
<line x1="282.35" y1="389.3" x2="282.35" y2="393.6" stroke="#3a3a3a" stroke-width="1" />
<text x="262.55" y="402.5" font-size="7.75" text-anchor="end" fill="#0d0d0d" stroke="#0d0d0d" stroke-width="0.22" transform="rotate(-45 262.55 402.5)" >Control</text>
<text x="284.15" y="402.5" font-size="7.75" text-anchor="end" fill="#0d0d0d" stroke="#0d0d0d" stroke-width="0.22" transform="rotate(-45 284.15 402.5)" >sh-SLC1A5</text>
<path d="M260.6 302.2V295H282.4V318.3" stroke="#2a2a2a" stroke-width="0.9" fill="none" />
<text x="271.8" y="291.2" font-size="7.2" text-anchor="middle" fill="#0d0d0d" stroke="#0d0d0d" stroke-width="0.22" >0.0465</text>
<text x="372.6" y="256.6" font-size="10" text-anchor="middle" fill="#0d0d0d" stroke="#0d0d0d" stroke-width="0.22" >GSH/GSSG ratio</text>
<text x="321.4" y="334.8" font-size="8.6" text-anchor="middle" fill="#0d0d0d" stroke="#0d0d0d" stroke-width="0.22" transform="rotate(-90 321.4 334.8)" >GSH/GSSG ratio</text>
<rect x="351" y="309.2" width="17.6" height="80.2" fill="#8e8888" stroke="#4f4c4c" stroke-width="1" />
<line x1="359.8" y1="305.3" x2="359.8" y2="312.1" stroke="#3a3a3a" stroke-width="0.8" />
<line x1="356.8" y1="305.3" x2="362.8" y2="305.3" stroke="#3a3a3a" stroke-width="0.8" />
<line x1="356.8" y1="312.1" x2="362.8" y2="312.1" stroke="#3a3a3a" stroke-width="0.8" />
<circle cx="359" cy="293.4" r="2.15" fill="#454343"/>
<circle cx="354.8" cy="305.4" r="2.15" fill="#454343"/>
<circle cx="363" cy="309" r="2.15" fill="#454343"/>
<circle cx="357.4" cy="309.5" r="2.15" fill="#454343"/>
<circle cx="365.2" cy="312.4" r="2.15" fill="#454343"/>
<circle cx="354" cy="315" r="2.15" fill="#454343"/>
<circle cx="358.6" cy="318.6" r="2.15" fill="#454343"/>
<rect x="378.8" y="366.7" width="17.9" height="22.7" fill="#a2b2d6" stroke="#819bcb" stroke-width="1" />
<line x1="387.75" y1="365.2" x2="387.75" y2="367.2" stroke="#819bcb" stroke-width="0.8" />
<line x1="384.75" y1="365.2" x2="390.75" y2="365.2" stroke="#819bcb" stroke-width="0.8" />
<line x1="384.75" y1="367.2" x2="390.75" y2="367.2" stroke="#819bcb" stroke-width="0.8" />
<circle cx="387.4" cy="364.6" r="2.15" fill="#4f7ebb"/>
<circle cx="380.6" cy="365.2" r="2.15" fill="#4f7ebb"/>
<circle cx="395" cy="365.8" r="2.15" fill="#4f7ebb"/>
<circle cx="391.2" cy="366.4" r="2.15" fill="#4f7ebb"/>
<circle cx="384.4" cy="368.6" r="2.15" fill="#4f7ebb"/>
<circle cx="390" cy="370.4" r="2.15" fill="#4f7ebb"/>
<circle cx="385.8" cy="371" r="2.15" fill="#4f7ebb"/>
<line x1="341.9" y1="276.8" x2="341.9" y2="389.9" stroke="#3a3a3a" stroke-width="1" />
<line x1="337.7" y1="277.3" x2="341.9" y2="277.3" stroke="#3a3a3a" stroke-width="1" />
<text x="333.8" y="280.26" font-size="7.4" text-anchor="end" fill="#0d0d0d" stroke="#0d0d0d" stroke-width="0.22" >3</text>
<line x1="337.7" y1="314.7" x2="341.9" y2="314.7" stroke="#3a3a3a" stroke-width="1" />
<text x="333.8" y="317.66" font-size="7.4" text-anchor="end" fill="#0d0d0d" stroke="#0d0d0d" stroke-width="0.22" >2</text>
<line x1="337.7" y1="352" x2="341.9" y2="352" stroke="#3a3a3a" stroke-width="1" />
<text x="333.8" y="354.96" font-size="7.4" text-anchor="end" fill="#0d0d0d" stroke="#0d0d0d" stroke-width="0.22" >1</text>
<line x1="337.7" y1="389.4" x2="341.9" y2="389.4" stroke="#3a3a3a" stroke-width="1" />
<text x="333.8" y="392.36" font-size="7.4" text-anchor="end" fill="#0d0d0d" stroke="#0d0d0d" stroke-width="0.22" >0</text>
<line x1="341.4" y1="389.4" x2="408" y2="389.4" stroke="#3a3a3a" stroke-width="1" />
<line x1="360.4" y1="389.4" x2="360.4" y2="393.7" stroke="#3a3a3a" stroke-width="1" />
<line x1="389" y1="389.4" x2="389" y2="393.7" stroke="#3a3a3a" stroke-width="1" />
<text x="363.6" y="402.8" font-size="7.75" text-anchor="end" fill="#0d0d0d" stroke="#0d0d0d" stroke-width="0.22" transform="rotate(-45 363.6 402.8)" >Control</text>
<text x="392.2" y="402.8" font-size="7.75" text-anchor="end" fill="#0d0d0d" stroke="#0d0d0d" stroke-width="0.22" transform="rotate(-45 392.2 402.8)" >sh-SLC1A5</text>
<path d="M360.4 287.2V279.9H389V359.7" stroke="#2a2a2a" stroke-width="0.9" fill="none" />
<text x="375.2" y="274" font-size="7.2" text-anchor="middle" fill="#0d0d0d" stroke="#0d0d0d" stroke-width="0.22" >0.0022</text>
<text x="503.7" y="256.6" font-size="10" text-anchor="middle" fill="#0d0d0d" stroke="#0d0d0d" stroke-width="0.22" >ROS</text>
<text x="448.2" y="335" font-size="8.6" text-anchor="middle" fill="#0d0d0d" stroke="#0d0d0d" stroke-width="0.22" transform="rotate(-90 448.2 335)" >Relative DCFDA intensity</text>
<rect x="482" y="319.3" width="17.1" height="69.2" fill="#8e8888" stroke="#4f4c4c" stroke-width="1" />
<line x1="490.55" y1="317.9" x2="490.55" y2="319.7" stroke="#3a3a3a" stroke-width="0.8" />
<line x1="487.55" y1="317.9" x2="493.55" y2="317.9" stroke="#3a3a3a" stroke-width="0.8" />
<line x1="487.55" y1="319.7" x2="493.55" y2="319.7" stroke="#3a3a3a" stroke-width="0.8" />
<circle cx="493.5" cy="316" r="2.15" fill="#454343"/>
<circle cx="487.9" cy="317" r="2.15" fill="#454343"/>
<circle cx="497.5" cy="317.6" r="2.15" fill="#454343"/>
<circle cx="483.9" cy="318.2" r="2.15" fill="#454343"/>
<circle cx="490.9" cy="320.4" r="2.15" fill="#454343"/>
<circle cx="487.1" cy="321.2" r="2.15" fill="#454343"/>
<circle cx="494.1" cy="322" r="2.15" fill="#454343"/>
<rect x="508.4" y="299.5" width="17.1" height="89" fill="#a2b2d6" stroke="#819bcb" stroke-width="1" />
<line x1="516.95" y1="298" x2="516.95" y2="300" stroke="#819bcb" stroke-width="0.8" />
<line x1="513.95" y1="298" x2="519.95" y2="298" stroke="#819bcb" stroke-width="0.8" />
<line x1="513.95" y1="300" x2="519.95" y2="300" stroke="#819bcb" stroke-width="0.8" />
<circle cx="510.4" cy="294.4" r="2.15" fill="#4f7ebb"/>
<circle cx="520" cy="295" r="2.15" fill="#4f7ebb"/>
<circle cx="515.4" cy="297.6" r="2.15" fill="#4f7ebb"/>
<circle cx="517.8" cy="298.6" r="2.15" fill="#4f7ebb"/>
<circle cx="524" cy="299.4" r="2.15" fill="#4f7ebb"/>
<circle cx="521" cy="299.8" r="2.15" fill="#4f7ebb"/>
<circle cx="512.4" cy="300.8" r="2.15" fill="#4f7ebb"/>
<line x1="473" y1="283.6" x2="473" y2="389" stroke="#3a3a3a" stroke-width="1" />
<line x1="468.8" y1="284.1" x2="473" y2="284.1" stroke="#3a3a3a" stroke-width="1" />
<text x="466.4" y="287.06" font-size="7.4" text-anchor="end" fill="#0d0d0d" stroke="#0d0d0d" stroke-width="0.22" >1.5</text>
<line x1="468.8" y1="318.5" x2="473" y2="318.5" stroke="#3a3a3a" stroke-width="1" />
<text x="466.4" y="321.46" font-size="7.4" text-anchor="end" fill="#0d0d0d" stroke="#0d0d0d" stroke-width="0.22" >1.0</text>
<line x1="468.8" y1="353.5" x2="473" y2="353.5" stroke="#3a3a3a" stroke-width="1" />
<text x="466.4" y="356.46" font-size="7.4" text-anchor="end" fill="#0d0d0d" stroke="#0d0d0d" stroke-width="0.22" >0.5</text>
<line x1="468.8" y1="388.5" x2="473" y2="388.5" stroke="#3a3a3a" stroke-width="1" />
<text x="466.4" y="391.46" font-size="7.4" text-anchor="end" fill="#0d0d0d" stroke="#0d0d0d" stroke-width="0.22" >0.0</text>
<line x1="472.5" y1="388.5" x2="534.6" y2="388.5" stroke="#3a3a3a" stroke-width="1" />
<line x1="490.55" y1="388.5" x2="490.55" y2="392.8" stroke="#3a3a3a" stroke-width="1" />
<line x1="516.95" y1="388.5" x2="516.95" y2="392.8" stroke="#3a3a3a" stroke-width="1" />
<text x="492.35" y="401.7" font-size="7.75" text-anchor="end" fill="#0d0d0d" stroke="#0d0d0d" stroke-width="0.22" transform="rotate(-45 492.35 401.7)" >Control</text>
<text x="518.75" y="401.7" font-size="7.75" text-anchor="end" fill="#0d0d0d" stroke="#0d0d0d" stroke-width="0.22" transform="rotate(-45 518.75 401.7)" >sh-SLC1A5</text>
<path d="M490.5 313.1V282.5H516.9V289.8" stroke="#2a2a2a" stroke-width="0.9" fill="none" />
<text x="504.8" y="277.4" font-size="7.2" text-anchor="middle" fill="#0d0d0d" stroke="#0d0d0d" stroke-width="0.22" >&lt;0.0001</text>
<text x="627.5" y="256.6" font-size="10" text-anchor="middle" fill="#0d0d0d" stroke="#0d0d0d" stroke-width="0.22" >mitoROS</text>
<text x="571.6" y="335.4" font-size="8.6" text-anchor="middle" fill="#0d0d0d" stroke="#0d0d0d" stroke-width="0.22" transform="rotate(-90 571.6 335.4)" >Relative mitoSOX intensity</text>
<rect x="606.5" y="333" width="17.7" height="54.8" fill="#8e8888" stroke="#4f4c4c" stroke-width="1" />
<line x1="615.35" y1="330.9" x2="615.35" y2="334.1" stroke="#3a3a3a" stroke-width="0.8" />
<line x1="612.35" y1="330.9" x2="618.35" y2="330.9" stroke="#3a3a3a" stroke-width="0.8" />
<line x1="612.35" y1="334.1" x2="618.35" y2="334.1" stroke="#3a3a3a" stroke-width="0.8" />
<circle cx="613.6" cy="329" r="2.15" fill="#454343"/>
<circle cx="618" cy="328" r="2.15" fill="#454343"/>
<circle cx="608.6" cy="335" r="2.15" fill="#454343"/>
<circle cx="612" cy="333.6" r="2.15" fill="#454343"/>
<circle cx="616" cy="333.6" r="2.15" fill="#454343"/>
<circle cx="619.6" cy="333.6" r="2.15" fill="#454343"/>
<circle cx="623" cy="333.6" r="2.15" fill="#454343"/>
<rect x="634.2" y="314.1" width="18.2" height="73.7" fill="#a2b2d6" stroke="#819bcb" stroke-width="1" />
<line x1="643.3" y1="308" x2="643.3" y2="319.2" stroke="#819bcb" stroke-width="0.8" />
<line x1="640.3" y1="308" x2="646.3" y2="308" stroke="#819bcb" stroke-width="0.8" />
<line x1="640.3" y1="319.2" x2="646.3" y2="319.2" stroke="#819bcb" stroke-width="0.8" />
<circle cx="636.6" cy="306" r="2.15" fill="#4f7ebb"/>
<circle cx="651" cy="309" r="2.15" fill="#4f7ebb"/>
<circle cx="643.6" cy="310" r="2.15" fill="#4f7ebb"/>
<circle cx="636.6" cy="320" r="2.15" fill="#4f7ebb"/>
<circle cx="643.6" cy="320" r="2.15" fill="#4f7ebb"/>
<circle cx="650.6" cy="320" r="2.15" fill="#4f7ebb"/>
<circle cx="647" cy="315" r="2.15" fill="#4f7ebb"/>
<line x1="597" y1="277.1" x2="597" y2="388.3" stroke="#3a3a3a" stroke-width="1" />
<line x1="592.8" y1="277.6" x2="597" y2="277.6" stroke="#3a3a3a" stroke-width="1" />
<text x="589.8" y="280.56" font-size="7.4" text-anchor="end" fill="#0d0d0d" stroke="#0d0d0d" stroke-width="0.22" >2.0</text>
<line x1="592.8" y1="304.8" x2="597" y2="304.8" stroke="#3a3a3a" stroke-width="1" />
<text x="589.8" y="307.76" font-size="7.4" text-anchor="end" fill="#0d0d0d" stroke="#0d0d0d" stroke-width="0.22" >1.5</text>
<line x1="592.8" y1="332.5" x2="597" y2="332.5" stroke="#3a3a3a" stroke-width="1" />
<text x="589.8" y="335.46" font-size="7.4" text-anchor="end" fill="#0d0d0d" stroke="#0d0d0d" stroke-width="0.22" >1.0</text>
<line x1="592.8" y1="360.2" x2="597" y2="360.2" stroke="#3a3a3a" stroke-width="1" />
<text x="589.8" y="363.16" font-size="7.4" text-anchor="end" fill="#0d0d0d" stroke="#0d0d0d" stroke-width="0.22" >0.5</text>
<line x1="592.8" y1="387.8" x2="597" y2="387.8" stroke="#3a3a3a" stroke-width="1" />
<text x="589.8" y="390.76" font-size="7.4" text-anchor="end" fill="#0d0d0d" stroke="#0d0d0d" stroke-width="0.22" >0.0</text>
<line x1="596.5" y1="387.8" x2="662.2" y2="387.8" stroke="#3a3a3a" stroke-width="1" />
<line x1="615.35" y1="387.8" x2="615.35" y2="392.1" stroke="#3a3a3a" stroke-width="1" />
<line x1="643.3" y1="387.8" x2="643.3" y2="392.1" stroke="#3a3a3a" stroke-width="1" />
<text x="618.55" y="402.2" font-size="7.75" text-anchor="end" fill="#0d0d0d" stroke="#0d0d0d" stroke-width="0.22" transform="rotate(-45 618.55 402.2)" >Control</text>
<text x="646.5" y="402.2" font-size="7.75" text-anchor="end" fill="#0d0d0d" stroke="#0d0d0d" stroke-width="0.22" transform="rotate(-45 646.5 402.2)" >sh-SLC1A5</text>
<path d="M615.3 324.7V293.6H643.3V301.4" stroke="#2a2a2a" stroke-width="0.9" fill="none" />
<text x="629.3" y="289.1" font-size="7.2" text-anchor="middle" fill="#0d0d0d" stroke="#0d0d0d" stroke-width="0.22" >&lt;0.0001</text>
<text x="177.4" y="477.9" font-size="11" text-anchor="middle" fill="#0d0d0d" stroke="#0d0d0d" stroke-width="0.22" >ECAR</text>
<text x="12.6" y="549.5" font-size="8.8" text-anchor="middle" fill="#0d0d0d" stroke="#0d0d0d" stroke-width="0.22" transform="rotate(-90 12.6 549.5)" >ECAR (mpH/min/10<tspan font-size="5.98" dx="1.0" dy="-2.99">4</tspan><tspan dy="2.99">cells)</tspan></text>
<polyline points="39.19,549.56 50.17,550.07 61.14,550.84 72.11,539.8 83.08,539.03 94.05,538 105.03,580.89 116,586.03 126.97,586.8 137.94,584.23 148.91,584.23 159.89,584.74" fill="none" stroke="#8fd060" stroke-width="0.9"/>
<line x1="39.19" y1="546.48" x2="39.19" y2="552.64" stroke="#95d268" stroke-width="0.8" />
<line x1="36.59" y1="546.48" x2="41.79" y2="546.48" stroke="#95d268" stroke-width="0.8" />
<line x1="36.59" y1="552.64" x2="41.79" y2="552.64" stroke="#95d268" stroke-width="0.8" />
<line x1="50.17" y1="547.51" x2="50.17" y2="552.64" stroke="#95d268" stroke-width="0.8" />
<line x1="47.57" y1="547.51" x2="52.77" y2="547.51" stroke="#95d268" stroke-width="0.8" />
<line x1="47.57" y1="552.64" x2="52.77" y2="552.64" stroke="#95d268" stroke-width="0.8" />
<line x1="61.14" y1="547.76" x2="61.14" y2="553.93" stroke="#95d268" stroke-width="0.8" />
<line x1="58.54" y1="547.76" x2="63.74" y2="547.76" stroke="#95d268" stroke-width="0.8" />
<line x1="58.54" y1="553.93" x2="63.74" y2="553.93" stroke="#95d268" stroke-width="0.8" />
<line x1="72.11" y1="533.64" x2="72.11" y2="545.96" stroke="#95d268" stroke-width="0.8" />
<line x1="69.51" y1="533.64" x2="74.71" y2="533.64" stroke="#95d268" stroke-width="0.8" />
<line x1="69.51" y1="545.96" x2="74.71" y2="545.96" stroke="#95d268" stroke-width="0.8" />
<line x1="83.08" y1="531.84" x2="83.08" y2="546.22" stroke="#95d268" stroke-width="0.8" />
<line x1="80.48" y1="531.84" x2="85.68" y2="531.84" stroke="#95d268" stroke-width="0.8" />
<line x1="80.48" y1="546.22" x2="85.68" y2="546.22" stroke="#95d268" stroke-width="0.8" />
<line x1="94.05" y1="531.33" x2="94.05" y2="544.68" stroke="#95d268" stroke-width="0.8" />
<line x1="91.45" y1="531.33" x2="96.65" y2="531.33" stroke="#95d268" stroke-width="0.8" />
<line x1="91.45" y1="544.68" x2="96.65" y2="544.68" stroke="#95d268" stroke-width="0.8" />
<line x1="105.03" y1="579.35" x2="105.03" y2="582.43" stroke="#95d268" stroke-width="0.8" />
<line x1="102.43" y1="579.35" x2="107.63" y2="579.35" stroke="#95d268" stroke-width="0.8" />
<line x1="102.43" y1="582.43" x2="107.63" y2="582.43" stroke="#95d268" stroke-width="0.8" />
<circle cx="39.19" cy="549.56" r="2.75" fill="#8fd060"/>
<circle cx="50.17" cy="550.07" r="2.75" fill="#8fd060"/>
<circle cx="61.14" cy="550.84" r="2.75" fill="#8fd060"/>
<circle cx="72.11" cy="539.8" r="2.75" fill="#8fd060"/>
<circle cx="83.08" cy="539.03" r="2.75" fill="#8fd060"/>
<circle cx="94.05" cy="538" r="2.75" fill="#8fd060"/>
<circle cx="105.03" cy="580.89" r="2.75" fill="#8fd060"/>
<circle cx="116" cy="586.03" r="2.75" fill="#8fd060"/>
<circle cx="126.97" cy="586.8" r="2.75" fill="#8fd060"/>
<circle cx="137.94" cy="584.23" r="2.75" fill="#8fd060"/>
<circle cx="148.91" cy="584.23" r="2.75" fill="#8fd060"/>
<circle cx="159.89" cy="584.74" r="2.75" fill="#8fd060"/>
<polyline points="39.19,544.42 50.17,545.19 61.14,545.45 72.11,528.25 83.08,527.73 94.05,526.45 105.03,577.81 116,583.71 126.97,585 137.94,582.43 148.91,582.17 159.89,582.43" fill="none" stroke="#f5913c" stroke-width="0.9"/>
<line x1="39.19" y1="540.32" x2="39.19" y2="548.53" stroke="#f69a4b" stroke-width="0.8" />
<line x1="36.59" y1="540.32" x2="41.79" y2="540.32" stroke="#f69a4b" stroke-width="0.8" />
<line x1="36.59" y1="548.53" x2="41.79" y2="548.53" stroke="#f69a4b" stroke-width="0.8" />
<line x1="50.17" y1="541.09" x2="50.17" y2="549.3" stroke="#f69a4b" stroke-width="0.8" />
<line x1="47.57" y1="541.09" x2="52.77" y2="541.09" stroke="#f69a4b" stroke-width="0.8" />
<line x1="47.57" y1="549.3" x2="52.77" y2="549.3" stroke="#f69a4b" stroke-width="0.8" />
<line x1="61.14" y1="541.6" x2="61.14" y2="549.3" stroke="#f69a4b" stroke-width="0.8" />
<line x1="58.54" y1="541.6" x2="63.74" y2="541.6" stroke="#f69a4b" stroke-width="0.8" />
<line x1="58.54" y1="549.3" x2="63.74" y2="549.3" stroke="#f69a4b" stroke-width="0.8" />
<line x1="72.11" y1="522.6" x2="72.11" y2="533.9" stroke="#f69a4b" stroke-width="0.8" />
<line x1="69.51" y1="522.6" x2="74.71" y2="522.6" stroke="#f69a4b" stroke-width="0.8" />
<line x1="69.51" y1="533.9" x2="74.71" y2="533.9" stroke="#f69a4b" stroke-width="0.8" />
<line x1="83.08" y1="522.08" x2="83.08" y2="533.38" stroke="#f69a4b" stroke-width="0.8" />
<line x1="80.48" y1="522.08" x2="85.68" y2="522.08" stroke="#f69a4b" stroke-width="0.8" />
<line x1="80.48" y1="533.38" x2="85.68" y2="533.38" stroke="#f69a4b" stroke-width="0.8" />
<line x1="94.05" y1="520.8" x2="94.05" y2="532.1" stroke="#f69a4b" stroke-width="0.8" />
<line x1="91.45" y1="520.8" x2="96.65" y2="520.8" stroke="#f69a4b" stroke-width="0.8" />
<line x1="91.45" y1="532.1" x2="96.65" y2="532.1" stroke="#f69a4b" stroke-width="0.8" />
<line x1="105.03" y1="576.27" x2="105.03" y2="579.35" stroke="#f69a4b" stroke-width="0.8" />
<line x1="102.43" y1="576.27" x2="107.63" y2="576.27" stroke="#f69a4b" stroke-width="0.8" />
<line x1="102.43" y1="579.35" x2="107.63" y2="579.35" stroke="#f69a4b" stroke-width="0.8" />
<circle cx="39.19" cy="544.42" r="2.75" fill="#f5913c"/>
<circle cx="50.17" cy="545.19" r="2.75" fill="#f5913c"/>
<circle cx="61.14" cy="545.45" r="2.75" fill="#f5913c"/>
<circle cx="72.11" cy="528.25" r="2.75" fill="#f5913c"/>
<circle cx="83.08" cy="527.73" r="2.75" fill="#f5913c"/>
<circle cx="94.05" cy="526.45" r="2.75" fill="#f5913c"/>
<circle cx="105.03" cy="577.81" r="2.75" fill="#f5913c"/>
<circle cx="116" cy="583.71" r="2.75" fill="#f5913c"/>
<circle cx="126.97" cy="585" r="2.75" fill="#f5913c"/>
<circle cx="137.94" cy="582.43" r="2.75" fill="#f5913c"/>
<circle cx="148.91" cy="582.17" r="2.75" fill="#f5913c"/>
<circle cx="159.89" cy="582.43" r="2.75" fill="#f5913c"/>
<polyline points="39.19,553.41 50.17,553.41 61.14,554.18 72.11,540.57 83.08,539.29 94.05,538 105.03,582.17 116,588.08 126.97,588.59 137.94,585.77 148.91,585.77 159.89,586.28" fill="none" stroke="#808080" stroke-width="0.9"/>
<circle cx="39.19" cy="553.41" r="2.75" fill="#4c4c4c"/>
<circle cx="50.17" cy="553.41" r="2.75" fill="#4c4c4c"/>
<circle cx="61.14" cy="554.18" r="2.75" fill="#4c4c4c"/>
<circle cx="72.11" cy="540.57" r="2.75" fill="#4c4c4c"/>
<circle cx="83.08" cy="539.29" r="2.75" fill="#4c4c4c"/>
<circle cx="94.05" cy="538" r="2.75" fill="#4c4c4c"/>
<circle cx="105.03" cy="582.17" r="2.75" fill="#4c4c4c"/>
<circle cx="116" cy="588.08" r="2.75" fill="#4c4c4c"/>
<circle cx="126.97" cy="588.59" r="2.75" fill="#4c4c4c"/>
<circle cx="137.94" cy="585.77" r="2.75" fill="#4c4c4c"/>
<circle cx="148.91" cy="585.77" r="2.75" fill="#4c4c4c"/>
<circle cx="159.89" cy="586.28" r="2.75" fill="#4c4c4c"/>
<line x1="37" y1="504.3" x2="37" y2="595" stroke="#3a3a3a" stroke-width="1" />
<line x1="33" y1="504.8" x2="37" y2="504.8" stroke="#3a3a3a" stroke-width="1" />
<text x="30.7" y="507.84" font-size="7.6" text-anchor="end" fill="#0d0d0d" stroke="#0d0d0d" stroke-width="0.22" >35</text>
<line x1="33" y1="517.6" x2="37" y2="517.6" stroke="#3a3a3a" stroke-width="1" />
<text x="30.7" y="520.64" font-size="7.6" text-anchor="end" fill="#0d0d0d" stroke="#0d0d0d" stroke-width="0.22" >30</text>
<line x1="33" y1="530.5" x2="37" y2="530.5" stroke="#3a3a3a" stroke-width="1" />
<text x="30.7" y="533.54" font-size="7.6" text-anchor="end" fill="#0d0d0d" stroke="#0d0d0d" stroke-width="0.22" >25</text>
<line x1="33" y1="543.3" x2="37" y2="543.3" stroke="#3a3a3a" stroke-width="1" />
<text x="30.7" y="546.34" font-size="7.6" text-anchor="end" fill="#0d0d0d" stroke="#0d0d0d" stroke-width="0.22" >20</text>
<line x1="33" y1="556.2" x2="37" y2="556.2" stroke="#3a3a3a" stroke-width="1" />
<text x="30.7" y="559.24" font-size="7.6" text-anchor="end" fill="#0d0d0d" stroke="#0d0d0d" stroke-width="0.22" >15</text>
<line x1="33" y1="569" x2="37" y2="569" stroke="#3a3a3a" stroke-width="1" />
<text x="30.7" y="572.04" font-size="7.6" text-anchor="end" fill="#0d0d0d" stroke="#0d0d0d" stroke-width="0.22" >10</text>
<line x1="33" y1="581.9" x2="37" y2="581.9" stroke="#3a3a3a" stroke-width="1" />
<text x="30.7" y="584.94" font-size="7.6" text-anchor="end" fill="#0d0d0d" stroke="#0d0d0d" stroke-width="0.22" >5</text>
<line x1="33" y1="594.7" x2="37" y2="594.7" stroke="#3a3a3a" stroke-width="1" />
<text x="30.7" y="597.74" font-size="7.6" text-anchor="end" fill="#0d0d0d" stroke="#0d0d0d" stroke-width="0.22" >0</text>
<line x1="36.5" y1="594.5" x2="172.5" y2="594.5" stroke="#3a3a3a" stroke-width="1" />
<line x1="37" y1="594.5" x2="37" y2="598.7" stroke="#3a3a3a" stroke-width="1" />
<text x="37" y="607.9" font-size="7.4" text-anchor="middle" fill="#0d0d0d" stroke="#0d0d0d" stroke-width="0.22" >0</text>
<line x1="70.76" y1="594.5" x2="70.76" y2="598.7" stroke="#3a3a3a" stroke-width="1" />
<text x="70.76" y="607.9" font-size="7.4" text-anchor="middle" fill="#0d0d0d" stroke="#0d0d0d" stroke-width="0.22" >20</text>
<line x1="104.52" y1="594.5" x2="104.52" y2="598.7" stroke="#3a3a3a" stroke-width="1" />
<text x="104.52" y="607.9" font-size="7.4" text-anchor="middle" fill="#0d0d0d" stroke="#0d0d0d" stroke-width="0.22" >40</text>
<line x1="138.28" y1="594.5" x2="138.28" y2="598.7" stroke="#3a3a3a" stroke-width="1" />
<text x="138.28" y="607.9" font-size="7.4" text-anchor="middle" fill="#0d0d0d" stroke="#0d0d0d" stroke-width="0.22" >60</text>
<line x1="172.04" y1="594.5" x2="172.04" y2="598.7" stroke="#3a3a3a" stroke-width="1" />
<text x="172.04" y="607.9" font-size="7.4" text-anchor="middle" fill="#0d0d0d" stroke="#0d0d0d" stroke-width="0.22" >80</text>
<text x="108" y="621" font-size="7.8" text-anchor="middle" fill="#0d0d0d" stroke="#0d0d0d" stroke-width="0.22" >Time/min</text>
<text x="95.3" y="503.8" font-size="7.4" text-anchor="middle" fill="#0d0d0d" stroke="#0d0d0d" stroke-width="0.22" >2-DG</text>
<line x1="94.6" y1="507.4" x2="94.6" y2="513.2" stroke="#111" stroke-width="1" />
<polygon points="91.85,512.7 97.35,512.7 94.6,517.6" fill="#111"/>
<text x="65.5" y="579.7" font-size="7.4" text-anchor="middle" fill="#0d0d0d" stroke="#0d0d0d" stroke-width="0.22" >Rotenone/</text>
<text x="65.5" y="587.3" font-size="7.4" text-anchor="middle" fill="#0d0d0d" stroke="#0d0d0d" stroke-width="0.22" >Antimycin</text>
<line x1="61.4" y1="570.4" x2="61.4" y2="564.6" stroke="#111" stroke-width="1" />
<polygon points="58.65,565.1 64.15,565.1 61.4,560.2" fill="#111"/>
<rect x="117" y="516.3" width="7.8" height="3.8" fill="#8e8888" stroke="#4f4c4c" stroke-width="0.9" />
<text x="129" y="520.47" font-size="6.3" text-anchor="start" fill="#0d0d0d" stroke="#0d0d0d" stroke-width="0.22" >Control</text>
<rect x="117" y="526.5" width="7.8" height="3.8" fill="#fbc18e" stroke="#f69c52" stroke-width="0.9" />
<text x="129" y="530.67" font-size="6.3" text-anchor="start" fill="#0d0d0d" stroke="#0d0d0d" stroke-width="0.22" >OE-SLC1A5</text>
<rect x="117" y="535.9" width="7.8" height="3.8" fill="#c2e1a4" stroke="#a8d880" stroke-width="0.9" />
<text x="129" y="540.07" font-size="6.3" text-anchor="start" fill="#0d0d0d" stroke="#0d0d0d" stroke-width="0.22" >OE-SLC1A5+GPNA</text>
<text x="526.9" y="477.9" font-size="11" text-anchor="middle" fill="#0d0d0d" stroke="#0d0d0d" stroke-width="0.22" >OCR</text>
<text x="347.8" y="549.6" font-size="8.8" text-anchor="middle" fill="#0d0d0d" stroke="#0d0d0d" stroke-width="0.22" transform="rotate(-90 347.8 549.6)" >OCR (pmol/min/10<tspan font-size="5.98" dx="1.0" dy="-2.99">4</tspan><tspan dy="2.99">cells)</tspan></text>
<polyline points="372.8,556.02 383.83,559.96 394.85,560.52 405.88,575.15 416.9,574.59 427.92,574.02 438.95,550.4 449.97,553.77 461,552.65 472.02,580.77 483.04,581.34 494.07,581.9" fill="none" stroke="#8fd060" stroke-width="0.9"/>
<line x1="405.88" y1="572.34" x2="405.88" y2="577.96" stroke="#a9d985" stroke-width="0.8" />
<line x1="403.28" y1="572.34" x2="408.48" y2="572.34" stroke="#a9d985" stroke-width="0.8" />
<line x1="403.28" y1="577.96" x2="408.48" y2="577.96" stroke="#a9d985" stroke-width="0.8" />
<line x1="416.9" y1="571.77" x2="416.9" y2="577.4" stroke="#a9d985" stroke-width="0.8" />
<line x1="414.3" y1="571.77" x2="419.5" y2="571.77" stroke="#a9d985" stroke-width="0.8" />
<line x1="414.3" y1="577.4" x2="419.5" y2="577.4" stroke="#a9d985" stroke-width="0.8" />
<line x1="427.92" y1="571.21" x2="427.92" y2="576.84" stroke="#a9d985" stroke-width="0.8" />
<line x1="425.32" y1="571.21" x2="430.52" y2="571.21" stroke="#a9d985" stroke-width="0.8" />
<line x1="425.32" y1="576.84" x2="430.52" y2="576.84" stroke="#a9d985" stroke-width="0.8" />
<line x1="438.95" y1="547.02" x2="438.95" y2="553.77" stroke="#a9d985" stroke-width="0.8" />
<line x1="436.35" y1="547.02" x2="441.55" y2="547.02" stroke="#a9d985" stroke-width="0.8" />
<line x1="436.35" y1="553.77" x2="441.55" y2="553.77" stroke="#a9d985" stroke-width="0.8" />
<line x1="449.97" y1="549.84" x2="449.97" y2="557.71" stroke="#a9d985" stroke-width="0.8" />
<line x1="447.37" y1="549.84" x2="452.57" y2="549.84" stroke="#a9d985" stroke-width="0.8" />
<line x1="447.37" y1="557.71" x2="452.57" y2="557.71" stroke="#a9d985" stroke-width="0.8" />
<line x1="461" y1="549.27" x2="461" y2="556.02" stroke="#a9d985" stroke-width="0.8" />
<line x1="458.4" y1="549.27" x2="463.6" y2="549.27" stroke="#a9d985" stroke-width="0.8" />
<line x1="458.4" y1="556.02" x2="463.6" y2="556.02" stroke="#a9d985" stroke-width="0.8" />
<circle cx="372.8" cy="556.02" r="2.75" fill="#8fd060"/>
<circle cx="383.83" cy="559.96" r="2.75" fill="#8fd060"/>
<circle cx="394.85" cy="560.52" r="2.75" fill="#8fd060"/>
<circle cx="405.88" cy="575.15" r="2.75" fill="#8fd060"/>
<circle cx="416.9" cy="574.59" r="2.75" fill="#8fd060"/>
<circle cx="427.92" cy="574.02" r="2.75" fill="#8fd060"/>
<circle cx="438.95" cy="550.4" r="2.75" fill="#8fd060"/>
<circle cx="449.97" cy="553.77" r="2.75" fill="#8fd060"/>
<circle cx="461" cy="552.65" r="2.75" fill="#8fd060"/>
<circle cx="472.02" cy="580.77" r="2.75" fill="#8fd060"/>
<circle cx="483.04" cy="581.34" r="2.75" fill="#8fd060"/>
<circle cx="494.07" cy="581.9" r="2.75" fill="#8fd060"/>
<polyline points="372.8,548.15 383.83,553.77 394.85,554.34 405.88,568.4 416.9,568.4 427.92,567.27 438.95,530.71 449.97,532.4 461,531.84 472.02,579.65 483.04,580.21 494.07,580.21" fill="none" stroke="#f5913c" stroke-width="0.9"/>
<line x1="405.88" y1="562.77" x2="405.88" y2="574.02" stroke="#f8b27c" stroke-width="0.8" />
<line x1="403.28" y1="562.77" x2="408.48" y2="562.77" stroke="#f8b27c" stroke-width="0.8" />
<line x1="403.28" y1="574.02" x2="408.48" y2="574.02" stroke="#f8b27c" stroke-width="0.8" />
<line x1="416.9" y1="562.77" x2="416.9" y2="574.02" stroke="#f8b27c" stroke-width="0.8" />
<line x1="414.3" y1="562.77" x2="419.5" y2="562.77" stroke="#f8b27c" stroke-width="0.8" />
<line x1="414.3" y1="574.02" x2="419.5" y2="574.02" stroke="#f8b27c" stroke-width="0.8" />
<line x1="427.92" y1="561.65" x2="427.92" y2="572.9" stroke="#f8b27c" stroke-width="0.8" />
<line x1="425.32" y1="561.65" x2="430.52" y2="561.65" stroke="#f8b27c" stroke-width="0.8" />
<line x1="425.32" y1="572.9" x2="430.52" y2="572.9" stroke="#f8b27c" stroke-width="0.8" />
<circle cx="372.8" cy="548.15" r="2.75" fill="#f5913c"/>
<circle cx="383.83" cy="553.77" r="2.75" fill="#f5913c"/>
<circle cx="394.85" cy="554.34" r="2.75" fill="#f5913c"/>
<circle cx="405.88" cy="568.4" r="2.75" fill="#f5913c"/>
<circle cx="416.9" cy="568.4" r="2.75" fill="#f5913c"/>
<circle cx="427.92" cy="567.27" r="2.75" fill="#f5913c"/>
<circle cx="438.95" cy="530.71" r="2.75" fill="#f5913c"/>
<circle cx="449.97" cy="532.4" r="2.75" fill="#f5913c"/>
<circle cx="461" cy="531.84" r="2.75" fill="#f5913c"/>
<circle cx="472.02" cy="579.65" r="2.75" fill="#f5913c"/>
<circle cx="483.04" cy="580.21" r="2.75" fill="#f5913c"/>
<circle cx="494.07" cy="580.21" r="2.75" fill="#f5913c"/>
<polyline points="372.8,561.65 383.83,564.46 394.85,565.59 405.88,574.59 416.9,574.02 427.92,573.46 438.95,549.84 449.97,552.65 461,552.65 472.02,581.34 483.04,581.9 494.07,582.46" fill="none" stroke="#5a5a5a" stroke-width="0.9"/>
<line x1="405.88" y1="571.21" x2="405.88" y2="577.96" stroke="#6e6e6e" stroke-width="0.8" />
<line x1="403.28" y1="571.21" x2="408.48" y2="571.21" stroke="#6e6e6e" stroke-width="0.8" />
<line x1="403.28" y1="577.96" x2="408.48" y2="577.96" stroke="#6e6e6e" stroke-width="0.8" />
<line x1="416.9" y1="570.65" x2="416.9" y2="577.4" stroke="#6e6e6e" stroke-width="0.8" />
<line x1="414.3" y1="570.65" x2="419.5" y2="570.65" stroke="#6e6e6e" stroke-width="0.8" />
<line x1="414.3" y1="577.4" x2="419.5" y2="577.4" stroke="#6e6e6e" stroke-width="0.8" />
<line x1="427.92" y1="570.09" x2="427.92" y2="576.84" stroke="#6e6e6e" stroke-width="0.8" />
<line x1="425.32" y1="570.09" x2="430.52" y2="570.09" stroke="#6e6e6e" stroke-width="0.8" />
<line x1="425.32" y1="576.84" x2="430.52" y2="576.84" stroke="#6e6e6e" stroke-width="0.8" />
<line x1="438.95" y1="546.46" x2="438.95" y2="553.21" stroke="#6e6e6e" stroke-width="0.8" />
<line x1="436.35" y1="546.46" x2="441.55" y2="546.46" stroke="#6e6e6e" stroke-width="0.8" />
<line x1="436.35" y1="553.21" x2="441.55" y2="553.21" stroke="#6e6e6e" stroke-width="0.8" />
<line x1="449.97" y1="548.71" x2="449.97" y2="556.59" stroke="#6e6e6e" stroke-width="0.8" />
<line x1="447.37" y1="548.71" x2="452.57" y2="548.71" stroke="#6e6e6e" stroke-width="0.8" />
<line x1="447.37" y1="556.59" x2="452.57" y2="556.59" stroke="#6e6e6e" stroke-width="0.8" />
<line x1="461" y1="548.71" x2="461" y2="556.59" stroke="#6e6e6e" stroke-width="0.8" />
<line x1="458.4" y1="548.71" x2="463.6" y2="548.71" stroke="#6e6e6e" stroke-width="0.8" />
<line x1="458.4" y1="556.59" x2="463.6" y2="556.59" stroke="#6e6e6e" stroke-width="0.8" />
<circle cx="372.8" cy="561.65" r="2.75" fill="#4c4c4c"/>
<circle cx="383.83" cy="564.46" r="2.75" fill="#4c4c4c"/>
<circle cx="394.85" cy="565.59" r="2.75" fill="#4c4c4c"/>
<circle cx="405.88" cy="574.59" r="2.75" fill="#4c4c4c"/>
<circle cx="416.9" cy="574.02" r="2.75" fill="#4c4c4c"/>
<circle cx="427.92" cy="573.46" r="2.75" fill="#4c4c4c"/>
<circle cx="438.95" cy="549.84" r="2.75" fill="#4c4c4c"/>
<circle cx="449.97" cy="552.65" r="2.75" fill="#4c4c4c"/>
<circle cx="461" cy="552.65" r="2.75" fill="#4c4c4c"/>
<circle cx="472.02" cy="581.34" r="2.75" fill="#4c4c4c"/>
<circle cx="483.04" cy="581.9" r="2.75" fill="#4c4c4c"/>
<circle cx="494.07" cy="582.46" r="2.75" fill="#4c4c4c"/>
<line x1="370.5" y1="504.9" x2="370.5" y2="595.9" stroke="#3a3a3a" stroke-width="1" />
<line x1="366.5" y1="505.4" x2="370.5" y2="505.4" stroke="#3a3a3a" stroke-width="1" />
<text x="364.3" y="508.44" font-size="7.6" text-anchor="end" fill="#0d0d0d" stroke="#0d0d0d" stroke-width="0.22" >80</text>
<line x1="366.5" y1="527.9" x2="370.5" y2="527.9" stroke="#3a3a3a" stroke-width="1" />
<text x="364.3" y="530.94" font-size="7.6" text-anchor="end" fill="#0d0d0d" stroke="#0d0d0d" stroke-width="0.22" >60</text>
<line x1="366.5" y1="550.4" x2="370.5" y2="550.4" stroke="#3a3a3a" stroke-width="1" />
<text x="364.3" y="553.44" font-size="7.6" text-anchor="end" fill="#0d0d0d" stroke="#0d0d0d" stroke-width="0.22" >40</text>
<line x1="366.5" y1="572.9" x2="370.5" y2="572.9" stroke="#3a3a3a" stroke-width="1" />
<text x="364.3" y="575.94" font-size="7.6" text-anchor="end" fill="#0d0d0d" stroke="#0d0d0d" stroke-width="0.22" >20</text>
<line x1="366.5" y1="595.4" x2="370.5" y2="595.4" stroke="#3a3a3a" stroke-width="1" />
<text x="364.3" y="598.44" font-size="7.6" text-anchor="end" fill="#0d0d0d" stroke="#0d0d0d" stroke-width="0.22" >0</text>
<line x1="370" y1="595.4" x2="506.9" y2="595.4" stroke="#3a3a3a" stroke-width="1" />
<line x1="370.6" y1="595.4" x2="370.6" y2="599.6" stroke="#3a3a3a" stroke-width="1" />
<text x="370.6" y="607.9" font-size="7.4" text-anchor="middle" fill="#0d0d0d" stroke="#0d0d0d" stroke-width="0.22" >0</text>
<line x1="404.52" y1="595.4" x2="404.52" y2="599.6" stroke="#3a3a3a" stroke-width="1" />
<text x="404.52" y="607.9" font-size="7.4" text-anchor="middle" fill="#0d0d0d" stroke="#0d0d0d" stroke-width="0.22" >20</text>
<line x1="438.44" y1="595.4" x2="438.44" y2="599.6" stroke="#3a3a3a" stroke-width="1" />
<text x="438.44" y="607.9" font-size="7.4" text-anchor="middle" fill="#0d0d0d" stroke="#0d0d0d" stroke-width="0.22" >40</text>
<line x1="472.36" y1="595.4" x2="472.36" y2="599.6" stroke="#3a3a3a" stroke-width="1" />
<text x="472.36" y="607.9" font-size="7.4" text-anchor="middle" fill="#0d0d0d" stroke="#0d0d0d" stroke-width="0.22" >60</text>
<line x1="506.28" y1="595.4" x2="506.28" y2="599.6" stroke="#3a3a3a" stroke-width="1" />
<text x="506.28" y="607.9" font-size="7.4" text-anchor="middle" fill="#0d0d0d" stroke="#0d0d0d" stroke-width="0.22" >80</text>
<text x="441.6" y="620.2" font-size="7.8" text-anchor="middle" fill="#0d0d0d" stroke="#0d0d0d" stroke-width="0.22" >Time/min</text>
<text x="396" y="528.4" font-size="7.4" text-anchor="middle" fill="#0d0d0d" stroke="#0d0d0d" stroke-width="0.22" >Oligomycin</text>
<line x1="396" y1="531.4" x2="396" y2="537.2" stroke="#111" stroke-width="1" />
<polygon points="393.25,536.7 398.75,536.7 396,541.6" fill="#111"/>
<text x="428.5" y="522.3" font-size="7.4" text-anchor="middle" fill="#0d0d0d" stroke="#0d0d0d" stroke-width="0.22" >FCCP</text>
<line x1="428.5" y1="526" x2="428.5" y2="532.2" stroke="#111" stroke-width="1" />
<polygon points="425.75,531.7 431.25,531.7 428.5,536.6" fill="#111"/>
<text x="461.2" y="503" font-size="7.4" text-anchor="middle" fill="#0d0d0d" stroke="#0d0d0d" stroke-width="0.22" >Rotenone/</text>
<text x="461.2" y="510.6" font-size="7.4" text-anchor="middle" fill="#0d0d0d" stroke="#0d0d0d" stroke-width="0.22" >Antimycin</text>
<line x1="461.2" y1="513.2" x2="461.2" y2="519.6" stroke="#111" stroke-width="1" />
<polygon points="458.45,519.1 463.95,519.1 461.2,524" fill="#111"/>
<rect x="486.2" y="519.5" width="6.9" height="3.8" fill="#8e8888" stroke="#4f4c4c" stroke-width="0.9" />
<text x="497.7" y="523.67" font-size="6.3" text-anchor="start" fill="#0d0d0d" stroke="#0d0d0d" stroke-width="0.22" >Control</text>
<rect x="486.2" y="529.1" width="6.9" height="3.8" fill="#fbc18e" stroke="#f69c52" stroke-width="0.9" />
<text x="497.7" y="533.27" font-size="6.3" text-anchor="start" fill="#0d0d0d" stroke="#0d0d0d" stroke-width="0.22" >OE-SLC1A5</text>
<rect x="486.2" y="538.5" width="6.9" height="3.8" fill="#c2e1a4" stroke="#a8d880" stroke-width="0.9" />
<text x="497.7" y="542.67" font-size="6.3" text-anchor="start" fill="#0d0d0d" stroke="#0d0d0d" stroke-width="0.22" >OE-SLC1A5+GPNA</text>
<text x="177.4" y="656.4" font-size="11" text-anchor="middle" fill="#0d0d0d" stroke="#0d0d0d" stroke-width="0.22" >ECAR</text>
<text x="12.6" y="733.4" font-size="8.8" text-anchor="middle" fill="#0d0d0d" stroke="#0d0d0d" stroke-width="0.22" transform="rotate(-90 12.6 733.4)" >ECAR (mpH/min/10<tspan font-size="5.98" dx="1.0" dy="-2.99">4</tspan><tspan dy="2.99">cells)</tspan></text>
<polyline points="38.6,732.24 49.58,733.14 60.57,733.32 71.55,721.23 82.54,718.16 93.52,716.72 104.51,762.36 115.49,764.35 126.48,764.53 137.46,764.53 148.45,764.35 159.43,763.26" fill="none" stroke="#5a5a5a" stroke-width="0.9"/>
<line x1="71.55" y1="716.18" x2="71.55" y2="726.28" stroke="#6e6e6e" stroke-width="0.8" />
<line x1="68.45" y1="716.18" x2="74.65" y2="716.18" stroke="#6e6e6e" stroke-width="0.8" />
<line x1="68.45" y1="726.28" x2="74.65" y2="726.28" stroke="#6e6e6e" stroke-width="0.8" />
<line x1="82.54" y1="711.31" x2="82.54" y2="725.02" stroke="#6e6e6e" stroke-width="0.8" />
<line x1="79.44" y1="711.31" x2="85.64" y2="711.31" stroke="#6e6e6e" stroke-width="0.8" />
<line x1="79.44" y1="725.02" x2="85.64" y2="725.02" stroke="#6e6e6e" stroke-width="0.8" />
<line x1="93.52" y1="709.14" x2="93.52" y2="724.3" stroke="#6e6e6e" stroke-width="0.8" />
<line x1="90.42" y1="709.14" x2="96.62" y2="709.14" stroke="#6e6e6e" stroke-width="0.8" />
<line x1="90.42" y1="724.3" x2="96.62" y2="724.3" stroke="#6e6e6e" stroke-width="0.8" />
<circle cx="38.6" cy="732.24" r="2.75" fill="#4c4c4c"/>
<circle cx="49.58" cy="733.14" r="2.75" fill="#4c4c4c"/>
<circle cx="60.57" cy="733.32" r="2.75" fill="#4c4c4c"/>
<circle cx="71.55" cy="721.23" r="2.75" fill="#4c4c4c"/>
<circle cx="82.54" cy="718.16" r="2.75" fill="#4c4c4c"/>
<circle cx="93.52" cy="716.72" r="2.75" fill="#4c4c4c"/>
<circle cx="104.51" cy="762.36" r="2.75" fill="#4c4c4c"/>
<circle cx="115.49" cy="764.35" r="2.75" fill="#4c4c4c"/>
<circle cx="126.48" cy="764.53" r="2.75" fill="#4c4c4c"/>
<circle cx="137.46" cy="764.53" r="2.75" fill="#4c4c4c"/>
<circle cx="148.45" cy="764.35" r="2.75" fill="#4c4c4c"/>
<circle cx="159.43" cy="763.26" r="2.75" fill="#4c4c4c"/>
<polyline points="38.6,744.68 49.58,745.4 60.57,745.58 71.55,733.14 82.54,732.24 93.52,731.87 104.51,767.41 115.49,771.38 126.48,771.92 137.46,771.56 148.45,771.38 159.43,771.2" fill="none" stroke="#4f7ebb" stroke-width="0.9"/>
<circle cx="38.6" cy="744.68" r="2.75" fill="#4f7ebb"/>
<circle cx="49.58" cy="745.4" r="2.75" fill="#4f7ebb"/>
<circle cx="60.57" cy="745.58" r="2.75" fill="#4f7ebb"/>
<circle cx="71.55" cy="733.14" r="2.75" fill="#4f7ebb"/>
<circle cx="82.54" cy="732.24" r="2.75" fill="#4f7ebb"/>
<circle cx="93.52" cy="731.87" r="2.75" fill="#4f7ebb"/>
<circle cx="104.51" cy="767.41" r="2.75" fill="#4f7ebb"/>
<circle cx="115.49" cy="771.38" r="2.75" fill="#4f7ebb"/>
<circle cx="126.48" cy="771.92" r="2.75" fill="#4f7ebb"/>
<circle cx="137.46" cy="771.56" r="2.75" fill="#4f7ebb"/>
<circle cx="148.45" cy="771.38" r="2.75" fill="#4f7ebb"/>
<circle cx="159.43" cy="771.2" r="2.75" fill="#4f7ebb"/>
<line x1="36.4" y1="688.8" x2="36.4" y2="780" stroke="#3a3a3a" stroke-width="1" />
<line x1="32.4" y1="689.3" x2="36.4" y2="689.3" stroke="#3a3a3a" stroke-width="1" />
<text x="30" y="692.34" font-size="7.6" text-anchor="end" fill="#0d0d0d" stroke="#0d0d0d" stroke-width="0.22" >50</text>
<line x1="32.4" y1="707.4" x2="36.4" y2="707.4" stroke="#3a3a3a" stroke-width="1" />
<text x="30" y="710.44" font-size="7.6" text-anchor="end" fill="#0d0d0d" stroke="#0d0d0d" stroke-width="0.22" >40</text>
<line x1="32.4" y1="725.2" x2="36.4" y2="725.2" stroke="#3a3a3a" stroke-width="1" />
<text x="30" y="728.24" font-size="7.6" text-anchor="end" fill="#0d0d0d" stroke="#0d0d0d" stroke-width="0.22" >30</text>
<line x1="32.4" y1="743.3" x2="36.4" y2="743.3" stroke="#3a3a3a" stroke-width="1" />
<text x="30" y="746.34" font-size="7.6" text-anchor="end" fill="#0d0d0d" stroke="#0d0d0d" stroke-width="0.22" >20</text>
<line x1="32.4" y1="761.4" x2="36.4" y2="761.4" stroke="#3a3a3a" stroke-width="1" />
<text x="30" y="764.44" font-size="7.6" text-anchor="end" fill="#0d0d0d" stroke="#0d0d0d" stroke-width="0.22" >10</text>
<line x1="32.4" y1="779.5" x2="36.4" y2="779.5" stroke="#3a3a3a" stroke-width="1" />
<text x="30" y="782.54" font-size="7.6" text-anchor="end" fill="#0d0d0d" stroke="#0d0d0d" stroke-width="0.22" >0</text>
<line x1="35.9" y1="779.5" x2="172.4" y2="779.5" stroke="#3a3a3a" stroke-width="1" />
<line x1="36.4" y1="779.5" x2="36.4" y2="783.7" stroke="#3a3a3a" stroke-width="1" />
<text x="36.4" y="792.2" font-size="7.4" text-anchor="middle" fill="#0d0d0d" stroke="#0d0d0d" stroke-width="0.22" >0</text>
<line x1="70.2" y1="779.5" x2="70.2" y2="783.7" stroke="#3a3a3a" stroke-width="1" />
<text x="70.2" y="792.2" font-size="7.4" text-anchor="middle" fill="#0d0d0d" stroke="#0d0d0d" stroke-width="0.22" >20</text>
<line x1="104" y1="779.5" x2="104" y2="783.7" stroke="#3a3a3a" stroke-width="1" />
<text x="104" y="792.2" font-size="7.4" text-anchor="middle" fill="#0d0d0d" stroke="#0d0d0d" stroke-width="0.22" >40</text>
<line x1="137.8" y1="779.5" x2="137.8" y2="783.7" stroke="#3a3a3a" stroke-width="1" />
<text x="137.8" y="792.2" font-size="7.4" text-anchor="middle" fill="#0d0d0d" stroke="#0d0d0d" stroke-width="0.22" >60</text>
<line x1="171.6" y1="779.5" x2="171.6" y2="783.7" stroke="#3a3a3a" stroke-width="1" />
<text x="171.6" y="792.2" font-size="7.4" text-anchor="middle" fill="#0d0d0d" stroke="#0d0d0d" stroke-width="0.22" >80</text>
<text x="106.6" y="810.6" font-size="7.8" text-anchor="middle" fill="#0d0d0d" stroke="#0d0d0d" stroke-width="0.22" >Time/min</text>
<text x="93.4" y="690.2" font-size="7.4" text-anchor="middle" fill="#0d0d0d" stroke="#0d0d0d" stroke-width="0.22" >2-DG</text>
<line x1="93.4" y1="693.4" x2="93.4" y2="699.8" stroke="#111" stroke-width="1" />
<polygon points="90.65,699.3 96.15,699.3 93.4,704.2" fill="#111"/>
<text x="65" y="768.2" font-size="7.4" text-anchor="middle" fill="#0d0d0d" stroke="#0d0d0d" stroke-width="0.22" >Rotenone/</text>
<text x="65" y="776" font-size="7.4" text-anchor="middle" fill="#0d0d0d" stroke="#0d0d0d" stroke-width="0.22" >Antimycin</text>
<line x1="60.4" y1="761.1" x2="60.4" y2="755.3" stroke="#111" stroke-width="1" />
<polygon points="57.65,755.8 63.15,755.8 60.4,750.9" fill="#111"/>
<rect x="125.2" y="704.1" width="7.4" height="3.8" fill="#8e8888" stroke="#4f4c4c" stroke-width="0.9" />
<text x="138.7" y="708.27" font-size="6.3" text-anchor="start" fill="#0d0d0d" stroke="#0d0d0d" stroke-width="0.22" >Control</text>
<rect x="125.2" y="713.4" width="7.4" height="3.8" fill="#a2b2d6" stroke="#819bcb" stroke-width="0.9" />
<text x="138.7" y="717.57" font-size="6.3" text-anchor="start" fill="#0d0d0d" stroke="#0d0d0d" stroke-width="0.22" >sh-SLC1A5</text>
<text x="526.9" y="656.4" font-size="11" text-anchor="middle" fill="#0d0d0d" stroke="#0d0d0d" stroke-width="0.22" >OCR</text>
<text x="347.8" y="735.6" font-size="8.8" text-anchor="middle" fill="#0d0d0d" stroke="#0d0d0d" stroke-width="0.22" transform="rotate(-90 347.8 735.6)" >OCR (pmole/min/10<tspan font-size="5.98" dx="1.0" dy="-2.99">4</tspan><tspan dy="2.99">cells)</tspan></text>
<polyline points="372.61,736.31 383.64,740.25 394.68,741.94 405.72,765 416.76,765 427.79,764.66 438.83,717.75 449.87,718.88 460.9,718.88 471.94,771.75 482.98,773.44 494.01,774" fill="none" stroke="#5a5a5a" stroke-width="0.9"/>
<line x1="460.9" y1="716.4" x2="460.9" y2="721.35" stroke="#6e6e6e" stroke-width="0.8" />
<line x1="458.3" y1="716.4" x2="463.5" y2="716.4" stroke="#6e6e6e" stroke-width="0.8" />
<line x1="458.3" y1="721.35" x2="463.5" y2="721.35" stroke="#6e6e6e" stroke-width="0.8" />
<circle cx="372.61" cy="736.31" r="2.75" fill="#4c4c4c"/>
<circle cx="383.64" cy="740.25" r="2.75" fill="#4c4c4c"/>
<circle cx="394.68" cy="741.94" r="2.75" fill="#4c4c4c"/>
<circle cx="405.72" cy="765" r="2.75" fill="#4c4c4c"/>
<circle cx="416.76" cy="765" r="2.75" fill="#4c4c4c"/>
<circle cx="427.79" cy="764.66" r="2.75" fill="#4c4c4c"/>
<circle cx="438.83" cy="717.75" r="2.75" fill="#4c4c4c"/>
<circle cx="449.87" cy="718.88" r="2.75" fill="#4c4c4c"/>
<circle cx="460.9" cy="718.88" r="2.75" fill="#4c4c4c"/>
<circle cx="471.94" cy="771.75" r="2.75" fill="#4c4c4c"/>
<circle cx="482.98" cy="773.44" r="2.75" fill="#4c4c4c"/>
<circle cx="494.01" cy="774" r="2.75" fill="#4c4c4c"/>
<polyline points="372.61,746.44 383.64,750.38 394.68,751.5 405.72,769.5 416.76,768.94 427.79,768.38 438.83,735.75 449.87,738.56 460.9,738 471.94,773.44 482.98,774 494.01,774.56" fill="none" stroke="#4f7ebb" stroke-width="0.9"/>
<line x1="372.61" y1="743.06" x2="372.61" y2="749.81" stroke="#86a5d6" stroke-width="0.8" />
<line x1="370.01" y1="743.06" x2="375.21" y2="743.06" stroke="#86a5d6" stroke-width="0.8" />
<line x1="370.01" y1="749.81" x2="375.21" y2="749.81" stroke="#86a5d6" stroke-width="0.8" />
<line x1="383.64" y1="745.88" x2="383.64" y2="754.88" stroke="#86a5d6" stroke-width="0.8" />
<line x1="381.04" y1="745.88" x2="386.24" y2="745.88" stroke="#86a5d6" stroke-width="0.8" />
<line x1="381.04" y1="754.88" x2="386.24" y2="754.88" stroke="#86a5d6" stroke-width="0.8" />
<line x1="394.68" y1="747.56" x2="394.68" y2="755.44" stroke="#86a5d6" stroke-width="0.8" />
<line x1="392.08" y1="747.56" x2="397.28" y2="747.56" stroke="#86a5d6" stroke-width="0.8" />
<line x1="392.08" y1="755.44" x2="397.28" y2="755.44" stroke="#86a5d6" stroke-width="0.8" />
<line x1="438.83" y1="729" x2="438.83" y2="742.5" stroke="#86a5d6" stroke-width="0.8" />
<line x1="436.23" y1="729" x2="441.43" y2="729" stroke="#86a5d6" stroke-width="0.8" />
<line x1="436.23" y1="742.5" x2="441.43" y2="742.5" stroke="#86a5d6" stroke-width="0.8" />
<line x1="449.87" y1="732.38" x2="449.87" y2="744.75" stroke="#86a5d6" stroke-width="0.8" />
<line x1="447.27" y1="732.38" x2="452.47" y2="732.38" stroke="#86a5d6" stroke-width="0.8" />
<line x1="447.27" y1="744.75" x2="452.47" y2="744.75" stroke="#86a5d6" stroke-width="0.8" />
<line x1="460.9" y1="732.38" x2="460.9" y2="743.62" stroke="#86a5d6" stroke-width="0.8" />
<line x1="458.3" y1="732.38" x2="463.5" y2="732.38" stroke="#86a5d6" stroke-width="0.8" />
<line x1="458.3" y1="743.62" x2="463.5" y2="743.62" stroke="#86a5d6" stroke-width="0.8" />
<circle cx="372.61" cy="746.44" r="2.75" fill="#4f7ebb"/>
<circle cx="383.64" cy="750.38" r="2.75" fill="#4f7ebb"/>
<circle cx="394.68" cy="751.5" r="2.75" fill="#4f7ebb"/>
<circle cx="405.72" cy="769.5" r="2.75" fill="#4f7ebb"/>
<circle cx="416.76" cy="768.94" r="2.75" fill="#4f7ebb"/>
<circle cx="427.79" cy="768.38" r="2.75" fill="#4f7ebb"/>
<circle cx="438.83" cy="735.75" r="2.75" fill="#4f7ebb"/>
<circle cx="449.87" cy="738.56" r="2.75" fill="#4f7ebb"/>
<circle cx="460.9" cy="738" r="2.75" fill="#4f7ebb"/>
<circle cx="471.94" cy="773.44" r="2.75" fill="#4f7ebb"/>
<circle cx="482.98" cy="774" r="2.75" fill="#4f7ebb"/>
<circle cx="494.01" cy="774.56" r="2.75" fill="#4f7ebb"/>
<line x1="370.4" y1="697" x2="370.4" y2="788" stroke="#3a3a3a" stroke-width="1" />
<line x1="366.4" y1="697.5" x2="370.4" y2="697.5" stroke="#3a3a3a" stroke-width="1" />
<text x="364.2" y="700.54" font-size="7.6" text-anchor="end" fill="#0d0d0d" stroke="#0d0d0d" stroke-width="0.22" >80</text>
<line x1="366.4" y1="720" x2="370.4" y2="720" stroke="#3a3a3a" stroke-width="1" />
<text x="364.2" y="723.04" font-size="7.6" text-anchor="end" fill="#0d0d0d" stroke="#0d0d0d" stroke-width="0.22" >60</text>
<line x1="366.4" y1="742.5" x2="370.4" y2="742.5" stroke="#3a3a3a" stroke-width="1" />
<text x="364.2" y="745.54" font-size="7.6" text-anchor="end" fill="#0d0d0d" stroke="#0d0d0d" stroke-width="0.22" >40</text>
<line x1="366.4" y1="765" x2="370.4" y2="765" stroke="#3a3a3a" stroke-width="1" />
<text x="364.2" y="768.04" font-size="7.6" text-anchor="end" fill="#0d0d0d" stroke="#0d0d0d" stroke-width="0.22" >20</text>
<line x1="366.4" y1="787.5" x2="370.4" y2="787.5" stroke="#3a3a3a" stroke-width="1" />
<text x="364.2" y="790.54" font-size="7.6" text-anchor="end" fill="#0d0d0d" stroke="#0d0d0d" stroke-width="0.22" >0</text>
<line x1="369.9" y1="787.5" x2="506.9" y2="787.5" stroke="#3a3a3a" stroke-width="1" />
<line x1="370.4" y1="787.5" x2="370.4" y2="791.7" stroke="#3a3a3a" stroke-width="1" />
<text x="370.4" y="799.5" font-size="7.4" text-anchor="middle" fill="#0d0d0d" stroke="#0d0d0d" stroke-width="0.22" >0</text>
<line x1="404.36" y1="787.5" x2="404.36" y2="791.7" stroke="#3a3a3a" stroke-width="1" />
<text x="404.36" y="799.5" font-size="7.4" text-anchor="middle" fill="#0d0d0d" stroke="#0d0d0d" stroke-width="0.22" >20</text>
<line x1="438.32" y1="787.5" x2="438.32" y2="791.7" stroke="#3a3a3a" stroke-width="1" />
<text x="438.32" y="799.5" font-size="7.4" text-anchor="middle" fill="#0d0d0d" stroke="#0d0d0d" stroke-width="0.22" >40</text>
<line x1="472.28" y1="787.5" x2="472.28" y2="791.7" stroke="#3a3a3a" stroke-width="1" />
<text x="472.28" y="799.5" font-size="7.4" text-anchor="middle" fill="#0d0d0d" stroke="#0d0d0d" stroke-width="0.22" >60</text>
<line x1="506.24" y1="787.5" x2="506.24" y2="791.7" stroke="#3a3a3a" stroke-width="1" />
<text x="506.24" y="799.5" font-size="7.4" text-anchor="middle" fill="#0d0d0d" stroke="#0d0d0d" stroke-width="0.22" >80</text>
<text x="441.6" y="810.6" font-size="7.8" text-anchor="middle" fill="#0d0d0d" stroke="#0d0d0d" stroke-width="0.22" >Time/min</text>
<text x="395.5" y="714.1" font-size="7.4" text-anchor="middle" fill="#0d0d0d" stroke="#0d0d0d" stroke-width="0.22" >Oligomycin</text>
<line x1="395.5" y1="717.9" x2="395.5" y2="723.8" stroke="#111" stroke-width="1" />
<polygon points="392.75,723.3 398.25,723.3 395.5,728.2" fill="#111"/>
<text x="429.6" y="704.4" font-size="7.4" text-anchor="middle" fill="#0d0d0d" stroke="#0d0d0d" stroke-width="0.22" >FCCP</text>
<line x1="429.6" y1="708" x2="429.6" y2="714.4" stroke="#111" stroke-width="1" />
<polygon points="426.85,713.9 432.35,713.9 429.6,718.8" fill="#111"/>
<text x="462" y="689.1" font-size="7.4" text-anchor="middle" fill="#0d0d0d" stroke="#0d0d0d" stroke-width="0.22" >Rotenone/</text>
<text x="462" y="696.6" font-size="7.4" text-anchor="middle" fill="#0d0d0d" stroke="#0d0d0d" stroke-width="0.22" >Antimycin</text>
<line x1="460.6" y1="699.2" x2="460.6" y2="705.6" stroke="#111" stroke-width="1" />
<polygon points="457.85,705.1 463.35,705.1 460.6,710" fill="#111"/>
<rect x="489.7" y="704.1" width="7.8" height="3.8" fill="#8e8888" stroke="#4f4c4c" stroke-width="0.9" />
<text x="504.1" y="708.27" font-size="6.3" text-anchor="start" fill="#0d0d0d" stroke="#0d0d0d" stroke-width="0.22" >Control</text>
<rect x="489.7" y="713.4" width="7.8" height="3.8" fill="#a2b2d6" stroke="#819bcb" stroke-width="0.9" />
<text x="504.1" y="717.57" font-size="6.3" text-anchor="start" fill="#0d0d0d" stroke="#0d0d0d" stroke-width="0.22" >sh-SLC1A5</text>
<text x="204.4" y="547.4" font-size="8.8" text-anchor="middle" fill="#0d0d0d" stroke="#0d0d0d" stroke-width="0.22" transform="rotate(-90 204.4 547.4)" >ECAR (mpH/min/10<tspan font-size="5.98" dx="1.0" dy="-2.99">4</tspan><tspan dy="2.99">cells)</tspan></text>
<rect x="229" y="560.45" width="8.2" height="34.95" fill="#8e8888" stroke="#4f4c4c" stroke-width="0.9" />
<circle cx="231" cy="561" r="1.45" fill="#3c3a3a"/>
<circle cx="233.6" cy="560" r="1.45" fill="#3c3a3a"/>
<circle cx="236.4" cy="560.6" r="1.45" fill="#3c3a3a"/>
<rect x="242.8" y="549.45" width="8" height="45.95" fill="#fbc18e" stroke="#f69c52" stroke-width="0.9" />
<circle cx="244.4" cy="549.6" r="1.45" fill="#f28b32"/>
<circle cx="247" cy="548.8" r="1.45" fill="#f28b32"/>
<circle cx="249.6" cy="549.6" r="1.45" fill="#f28b32"/>
<rect x="256.6" y="556.45" width="8.2" height="38.95" fill="#c2e1a4" stroke="#a8d880" stroke-width="0.9" />
<circle cx="258" cy="556" r="1.45" fill="#8fd060"/>
<circle cx="260.4" cy="554.6" r="1.45" fill="#8fd060"/>
<circle cx="263.6" cy="556" r="1.45" fill="#8fd060"/>
<rect x="279.4" y="542.05" width="8.2" height="53.35" fill="#8e8888" stroke="#4f4c4c" stroke-width="0.9" />
<circle cx="280.4" cy="541" r="1.45" fill="#3c3a3a"/>
<circle cx="280.6" cy="543" r="1.45" fill="#3c3a3a"/>
<circle cx="284" cy="542.4" r="1.45" fill="#3c3a3a"/>
<circle cx="286.4" cy="542" r="1.45" fill="#3c3a3a"/>
<rect x="292.8" y="527.45" width="8.4" height="67.95" fill="#fbc18e" stroke="#f69c52" stroke-width="0.9" />
<circle cx="294.4" cy="527.6" r="1.45" fill="#f28b32"/>
<circle cx="297" cy="526" r="1.45" fill="#f28b32"/>
<circle cx="300" cy="527.4" r="1.45" fill="#f28b32"/>
<rect x="306.8" y="542.05" width="8.4" height="53.35" fill="#c2e1a4" stroke="#a8d880" stroke-width="0.9" />
<circle cx="308" cy="540.6" r="1.45" fill="#8fd060"/>
<circle cx="308.2" cy="543.4" r="1.45" fill="#8fd060"/>
<circle cx="314" cy="541.6" r="1.45" fill="#8fd060"/>
<line x1="224" y1="498.5" x2="224" y2="595.9" stroke="#3a3a3a" stroke-width="1" />
<line x1="220" y1="499" x2="224" y2="499" stroke="#3a3a3a" stroke-width="1" />
<text x="217.9" y="502.04" font-size="7.6" text-anchor="end" fill="#0d0d0d" stroke="#0d0d0d" stroke-width="0.22" >35</text>
<line x1="220" y1="515.1" x2="224" y2="515.1" stroke="#3a3a3a" stroke-width="1" />
<text x="217.9" y="518.14" font-size="7.6" text-anchor="end" fill="#0d0d0d" stroke="#0d0d0d" stroke-width="0.22" >30</text>
<line x1="220" y1="531.1" x2="224" y2="531.1" stroke="#3a3a3a" stroke-width="1" />
<text x="217.9" y="534.14" font-size="7.6" text-anchor="end" fill="#0d0d0d" stroke="#0d0d0d" stroke-width="0.22" >25</text>
<line x1="220" y1="547.2" x2="224" y2="547.2" stroke="#3a3a3a" stroke-width="1" />
<text x="217.9" y="550.24" font-size="7.6" text-anchor="end" fill="#0d0d0d" stroke="#0d0d0d" stroke-width="0.22" >20</text>
<line x1="220" y1="563.3" x2="224" y2="563.3" stroke="#3a3a3a" stroke-width="1" />
<text x="217.9" y="566.34" font-size="7.6" text-anchor="end" fill="#0d0d0d" stroke="#0d0d0d" stroke-width="0.22" >15</text>
<line x1="220" y1="579.3" x2="224" y2="579.3" stroke="#3a3a3a" stroke-width="1" />
<text x="217.9" y="582.34" font-size="7.6" text-anchor="end" fill="#0d0d0d" stroke="#0d0d0d" stroke-width="0.22" >10</text>
<line x1="220" y1="595.4" x2="224" y2="595.4" stroke="#3a3a3a" stroke-width="1" />
<text x="217.9" y="598.44" font-size="7.6" text-anchor="end" fill="#0d0d0d" stroke="#0d0d0d" stroke-width="0.22" >5</text>
<line x1="223.5" y1="595.4" x2="320.4" y2="595.4" stroke="#3a3a3a" stroke-width="1" />
<line x1="246.4" y1="595.4" x2="246.4" y2="599.6" stroke="#3a3a3a" stroke-width="1" />
<line x1="296.6" y1="595.4" x2="296.6" y2="599.6" stroke="#3a3a3a" stroke-width="1" />
<text x="246.4" y="606.2" font-size="7.4" text-anchor="middle" fill="#0d0d0d" stroke="#0d0d0d" stroke-width="0.22" >Basal</text>
<text x="296.2" y="606.2" font-size="7.4" text-anchor="middle" fill="#0d0d0d" stroke="#0d0d0d" stroke-width="0.22" >Rotenone/</text>
<text x="295.6" y="614.6" font-size="7.4" text-anchor="middle" fill="#0d0d0d" stroke="#0d0d0d" stroke-width="0.22" >Antimycin</text>
<path d="M232.4 555V535.6H247.4V540" stroke="#2a2a2a" stroke-width="0.9" fill="none" />
<text x="240.4" y="534.2" font-size="7.4" text-anchor="middle" fill="#0d0d0d" stroke="#0d0d0d" stroke-width="0.22" >&lt;0.0001</text>
<path d="M232.4 525.6V521H260V548" stroke="#2a2a2a" stroke-width="0.9" fill="none" />
<text x="244.4" y="518.2" font-size="7.4" text-anchor="middle" fill="#0d0d0d" stroke="#0d0d0d" stroke-width="0.22" >0.0012</text>
<path d="M282.4 534V515.6H297.6V520" stroke="#2a2a2a" stroke-width="0.9" fill="none" />
<text x="290" y="513.2" font-size="7.4" text-anchor="middle" fill="#0d0d0d" stroke="#0d0d0d" stroke-width="0.22" >&lt;0.0001</text>
<path d="M282.4 505V501H311.4V534" stroke="#2a2a2a" stroke-width="0.9" fill="none" />
<text x="299.4" y="497" font-size="7.4" text-anchor="middle" fill="#0d0d0d" stroke="#0d0d0d" stroke-width="0.22" >0.9630</text>
<text x="566.4" y="552.5" font-size="8.8" text-anchor="middle" fill="#0d0d0d" stroke="#0d0d0d" stroke-width="0.22" transform="rotate(-90 566.4 552.5)" >OCR (pmol/min/10<tspan font-size="5.98" dx="1.0" dy="-2.99">4</tspan><tspan dy="2.99">cells)</tspan></text>
<rect x="592.7" y="569.85" width="8.8" height="33.55" fill="#8e8888" stroke="#4f4c4c" stroke-width="0.9" />
<line x1="597.1" y1="568.4" x2="597.1" y2="570.4" stroke="#3a3a3a" stroke-width="0.7" />
<line x1="594.7" y1="568.4" x2="599.5" y2="568.4" stroke="#3a3a3a" stroke-width="0.7" />
<line x1="594.7" y1="570.4" x2="599.5" y2="570.4" stroke="#3a3a3a" stroke-width="0.7" />
<circle cx="597" cy="567" r="1.45" fill="#3c3a3a"/>
<circle cx="594.4" cy="570" r="1.45" fill="#3c3a3a"/>
<circle cx="599.6" cy="569.6" r="1.45" fill="#3c3a3a"/>
<rect x="606.4" y="557.45" width="8.8" height="45.95" fill="#fbc18e" stroke="#f69c52" stroke-width="0.9" />
<line x1="610.8" y1="555" x2="610.8" y2="559" stroke="#f69c52" stroke-width="0.7" />
<line x1="608.4" y1="555" x2="613.2" y2="555" stroke="#f69c52" stroke-width="0.7" />
<line x1="608.4" y1="559" x2="613.2" y2="559" stroke="#f69c52" stroke-width="0.7" />
<circle cx="611" cy="552.4" r="1.45" fill="#f28b32"/>
<circle cx="608" cy="557" r="1.45" fill="#f28b32"/>
<circle cx="614" cy="557" r="1.45" fill="#f28b32"/>
<rect x="620.4" y="565.05" width="8.8" height="38.35" fill="#c2e1a4" stroke="#a8d880" stroke-width="0.9" />
<line x1="624.8" y1="563" x2="624.8" y2="566.2" stroke="#a8d880" stroke-width="0.7" />
<line x1="622.4" y1="563" x2="627.2" y2="563" stroke="#a8d880" stroke-width="0.7" />
<line x1="622.4" y1="566.2" x2="627.2" y2="566.2" stroke="#a8d880" stroke-width="0.7" />
<circle cx="624.6" cy="560.6" r="1.45" fill="#8fd060"/>
<circle cx="621.6" cy="565" r="1.45" fill="#8fd060"/>
<circle cx="627.6" cy="565" r="1.45" fill="#8fd060"/>
<rect x="643.8" y="556.85" width="8.4" height="46.55" fill="#8e8888" stroke="#4f4c4c" stroke-width="0.9" />
<line x1="648" y1="555.5" x2="648" y2="557.3" stroke="#3a3a3a" stroke-width="0.7" />
<line x1="645.6" y1="555.5" x2="650.4" y2="555.5" stroke="#3a3a3a" stroke-width="0.7" />
<line x1="645.6" y1="557.3" x2="650.4" y2="557.3" stroke="#3a3a3a" stroke-width="0.7" />
<circle cx="644.8" cy="554.4" r="1.45" fill="#3c3a3a"/>
<circle cx="648" cy="556.4" r="1.45" fill="#3c3a3a"/>
<circle cx="651" cy="556.4" r="1.45" fill="#3c3a3a"/>
<rect x="657.4" y="535.45" width="8.8" height="67.95" fill="#fbc18e" stroke="#f69c52" stroke-width="0.9" />
<circle cx="659" cy="534.4" r="1.45" fill="#f28b32"/>
<circle cx="662" cy="533.2" r="1.45" fill="#f28b32"/>
<circle cx="664.6" cy="534.4" r="1.45" fill="#f28b32"/>
<rect x="671.4" y="556.85" width="8.6" height="46.55" fill="#c2e1a4" stroke="#a8d880" stroke-width="0.9" />
<line x1="675.7" y1="555.5" x2="675.7" y2="557.3" stroke="#a8d880" stroke-width="0.7" />
<line x1="673.3" y1="555.5" x2="678.1" y2="555.5" stroke="#a8d880" stroke-width="0.7" />
<line x1="673.3" y1="557.3" x2="678.1" y2="557.3" stroke="#a8d880" stroke-width="0.7" />
<circle cx="672.4" cy="554.6" r="1.45" fill="#8fd060"/>
<circle cx="675.4" cy="556.6" r="1.45" fill="#8fd060"/>
<circle cx="678.4" cy="556.6" r="1.45" fill="#8fd060"/>
<line x1="588" y1="505.9" x2="588" y2="603.9" stroke="#3a3a3a" stroke-width="1" />
<line x1="584" y1="506.4" x2="588" y2="506.4" stroke="#3a3a3a" stroke-width="1" />
<text x="582" y="509.36" font-size="7.4" text-anchor="end" fill="#0d0d0d" stroke="#0d0d0d" stroke-width="0.22" >80</text>
<line x1="584" y1="530.6" x2="588" y2="530.6" stroke="#3a3a3a" stroke-width="1" />
<text x="582" y="533.56" font-size="7.4" text-anchor="end" fill="#0d0d0d" stroke="#0d0d0d" stroke-width="0.22" >60</text>
<line x1="584" y1="555" x2="588" y2="555" stroke="#3a3a3a" stroke-width="1" />
<text x="582" y="557.96" font-size="7.4" text-anchor="end" fill="#0d0d0d" stroke="#0d0d0d" stroke-width="0.22" >40</text>
<line x1="584" y1="579.2" x2="588" y2="579.2" stroke="#3a3a3a" stroke-width="1" />
<text x="582" y="582.16" font-size="7.4" text-anchor="end" fill="#0d0d0d" stroke="#0d0d0d" stroke-width="0.22" >20</text>
<line x1="584" y1="603.4" x2="588" y2="603.4" stroke="#3a3a3a" stroke-width="1" />
<text x="582" y="606.36" font-size="7.4" text-anchor="end" fill="#0d0d0d" stroke="#0d0d0d" stroke-width="0.22" >0</text>
<line x1="587.5" y1="603.4" x2="685" y2="603.4" stroke="#3a3a3a" stroke-width="1" />
<line x1="610.7" y1="603.4" x2="610.7" y2="607.6" stroke="#3a3a3a" stroke-width="1" />
<line x1="661.3" y1="603.4" x2="661.3" y2="607.6" stroke="#3a3a3a" stroke-width="1" />
<text x="611" y="615" font-size="7.4" text-anchor="middle" fill="#0d0d0d" stroke="#0d0d0d" stroke-width="0.22" >Basal</text>
<text x="663.2" y="615" font-size="7.4" text-anchor="middle" fill="#0d0d0d" stroke="#0d0d0d" stroke-width="0.22" >FCCP</text>
<path d="M597 559V543H611V547" stroke="#2a2a2a" stroke-width="0.9" fill="none" />
<text x="604.6" y="541.2" font-size="7.2" text-anchor="middle" fill="#0d0d0d" stroke="#0d0d0d" stroke-width="0.22" >0.0040</text>
<path d="M597 531.6V527.4H625V550" stroke="#2a2a2a" stroke-width="0.9" fill="none" />
<text x="609" y="523.2" font-size="7.2" text-anchor="middle" fill="#0d0d0d" stroke="#0d0d0d" stroke-width="0.22" >0.1210</text>
<path d="M647.4 548V523.6H661.6V528" stroke="#2a2a2a" stroke-width="0.9" fill="none" />
<text x="652.6" y="521.2" font-size="7.2" text-anchor="middle" fill="#0d0d0d" stroke="#0d0d0d" stroke-width="0.22" >&lt;0.0001</text>
<path d="M647.4 512V507.6H675.4V548" stroke="#2a2a2a" stroke-width="0.9" fill="none" />
<text x="663.6" y="503.6" font-size="7.2" text-anchor="middle" fill="#0d0d0d" stroke="#0d0d0d" stroke-width="0.22" >0.9634</text>
<text x="204.4" y="733.4" font-size="8.8" text-anchor="middle" fill="#0d0d0d" stroke="#0d0d0d" stroke-width="0.22" transform="rotate(-90 204.4 733.4)" >ECAR (mpH/min/10<tspan font-size="5.98" dx="1.0" dy="-2.99">4</tspan><tspan dy="2.99">cells)</tspan></text>
<rect x="234.8" y="717.05" width="11.2" height="69.45" fill="#8e8888" stroke="#4f4c4c" stroke-width="0.9" />
<circle cx="236.4" cy="717" r="1.6" fill="#3c3a3a"/>
<circle cx="240" cy="715" r="1.6" fill="#3c3a3a"/>
<circle cx="244" cy="716.6" r="1.6" fill="#3c3a3a"/>
<rect x="252.8" y="735.85" width="11.2" height="50.65" fill="#a2b2d6" stroke="#819bcb" stroke-width="0.9" />
<circle cx="254.4" cy="735.4" r="1.6" fill="#4f7ebb"/>
<circle cx="258" cy="734" r="1.6" fill="#4f7ebb"/>
<circle cx="262.4" cy="735.4" r="1.6" fill="#4f7ebb"/>
<rect x="282.8" y="695.45" width="10.8" height="91.05" fill="#8e8888" stroke="#4f4c4c" stroke-width="0.9" />
<line x1="288.2" y1="693.6" x2="288.2" y2="696.4" stroke="#3a3a3a" stroke-width="0.7" />
<line x1="285.8" y1="693.6" x2="290.6" y2="693.6" stroke="#3a3a3a" stroke-width="0.7" />
<line x1="285.8" y1="696.4" x2="290.6" y2="696.4" stroke="#3a3a3a" stroke-width="0.7" />
<circle cx="283.6" cy="691.6" r="1.6" fill="#3c3a3a"/>
<circle cx="287.6" cy="698" r="1.6" fill="#3c3a3a"/>
<circle cx="292.6" cy="694.6" r="1.6" fill="#3c3a3a"/>
<rect x="300.4" y="716.05" width="11.2" height="70.45" fill="#a2b2d6" stroke="#819bcb" stroke-width="0.9" />
<circle cx="302" cy="716" r="1.6" fill="#4f7ebb"/>
<circle cx="306" cy="714.4" r="1.6" fill="#4f7ebb"/>
<circle cx="310.4" cy="715.4" r="1.6" fill="#4f7ebb"/>
<line x1="228.5" y1="677.5" x2="228.5" y2="787" stroke="#3a3a3a" stroke-width="1" />
<line x1="224.5" y1="678" x2="228.5" y2="678" stroke="#3a3a3a" stroke-width="1" />
<text x="220.7" y="680.96" font-size="7.4" text-anchor="end" fill="#0d0d0d" stroke="#0d0d0d" stroke-width="0.22" >40</text>
<line x1="224.5" y1="705.1" x2="228.5" y2="705.1" stroke="#3a3a3a" stroke-width="1" />
<text x="220.7" y="708.06" font-size="7.4" text-anchor="end" fill="#0d0d0d" stroke="#0d0d0d" stroke-width="0.22" >30</text>
<line x1="224.5" y1="732.3" x2="228.5" y2="732.3" stroke="#3a3a3a" stroke-width="1" />
<text x="220.7" y="735.26" font-size="7.4" text-anchor="end" fill="#0d0d0d" stroke="#0d0d0d" stroke-width="0.22" >20</text>
<line x1="224.5" y1="759.4" x2="228.5" y2="759.4" stroke="#3a3a3a" stroke-width="1" />
<text x="220.7" y="762.36" font-size="7.4" text-anchor="end" fill="#0d0d0d" stroke="#0d0d0d" stroke-width="0.22" >10</text>
<line x1="224.5" y1="786.5" x2="228.5" y2="786.5" stroke="#3a3a3a" stroke-width="1" />
<text x="220.7" y="789.46" font-size="7.4" text-anchor="end" fill="#0d0d0d" stroke="#0d0d0d" stroke-width="0.22" >0</text>
<line x1="228" y1="786.5" x2="317.4" y2="786.5" stroke="#3a3a3a" stroke-width="1" />
<line x1="249.6" y1="786.5" x2="249.6" y2="790.7" stroke="#3a3a3a" stroke-width="1" />
<line x1="296.8" y1="786.5" x2="296.8" y2="790.7" stroke="#3a3a3a" stroke-width="1" />
<text x="250" y="798.6" font-size="7.4" text-anchor="middle" fill="#0d0d0d" stroke="#0d0d0d" stroke-width="0.22" >Basal</text>
<text x="296.4" y="798.6" font-size="7.4" text-anchor="middle" fill="#0d0d0d" stroke="#0d0d0d" stroke-width="0.22" >Rotenone/</text>
<text x="295.6" y="807.2" font-size="7.4" text-anchor="middle" fill="#0d0d0d" stroke="#0d0d0d" stroke-width="0.22" >Antimycin</text>
<path d="M240 708V702.6H258.6V721.4" stroke="#2a2a2a" stroke-width="0.9" fill="none" />
<text x="251" y="699" font-size="7.5" text-anchor="middle" fill="#0d0d0d" stroke="#0d0d0d" stroke-width="0.22" >&lt;0.0001</text>
<path d="M288 686.6V681H306V702.6" stroke="#2a2a2a" stroke-width="0.9" fill="none" />
<text x="297" y="678" font-size="7.5" text-anchor="middle" fill="#0d0d0d" stroke="#0d0d0d" stroke-width="0.22" >0.0006</text>
<text x="568" y="730.4" font-size="8.8" text-anchor="middle" fill="#0d0d0d" stroke="#0d0d0d" stroke-width="0.22" transform="rotate(-90 568 730.4)" >OCR (pmole/min/10<tspan font-size="5.98" dx="1.0" dy="-2.99">4</tspan><tspan dy="2.99">cells)</tspan></text>
<rect x="598.4" y="728.05" width="10.8" height="58.45" fill="#8e8888" stroke="#4f4c4c" stroke-width="0.9" />
<line x1="603.8" y1="725.1" x2="603.8" y2="730.1" stroke="#3a3a3a" stroke-width="0.7" />
<line x1="601.4" y1="725.1" x2="606.2" y2="725.1" stroke="#3a3a3a" stroke-width="0.7" />
<line x1="601.4" y1="730.1" x2="606.2" y2="730.1" stroke="#3a3a3a" stroke-width="0.7" />
<circle cx="603.6" cy="723.6" r="1.7" fill="#3c3a3a"/>
<circle cx="600" cy="729.6" r="1.7" fill="#3c3a3a"/>
<circle cx="607.4" cy="728.6" r="1.7" fill="#3c3a3a"/>
<rect x="616.4" y="740.45" width="11.2" height="46.05" fill="#a2b2d6" stroke="#819bcb" stroke-width="0.9" />
<line x1="622" y1="737.5" x2="622" y2="742.5" stroke="#819bcb" stroke-width="0.7" />
<line x1="619.6" y1="737.5" x2="624.4" y2="737.5" stroke="#819bcb" stroke-width="0.7" />
<line x1="619.6" y1="742.5" x2="624.4" y2="742.5" stroke="#819bcb" stroke-width="0.7" />
<circle cx="622" cy="736" r="1.7" fill="#4f7ebb"/>
<circle cx="618.4" cy="740.6" r="1.7" fill="#4f7ebb"/>
<circle cx="625.6" cy="740.6" r="1.7" fill="#4f7ebb"/>
<rect x="646.4" y="702.45" width="11.2" height="84.05" fill="#8e8888" stroke="#4f4c4c" stroke-width="0.9" />
<circle cx="648" cy="702.4" r="1.7" fill="#3c3a3a"/>
<circle cx="652" cy="701" r="1.7" fill="#3c3a3a"/>
<circle cx="656.4" cy="702.4" r="1.7" fill="#3c3a3a"/>
<rect x="664.8" y="725.45" width="11.2" height="61.05" fill="#a2b2d6" stroke="#819bcb" stroke-width="0.9" />
<line x1="670.4" y1="723.8" x2="670.4" y2="726.2" stroke="#819bcb" stroke-width="0.7" />
<line x1="668" y1="723.8" x2="672.8" y2="723.8" stroke="#819bcb" stroke-width="0.7" />
<line x1="668" y1="726.2" x2="672.8" y2="726.2" stroke="#819bcb" stroke-width="0.7" />
<circle cx="666" cy="723" r="1.7" fill="#4f7ebb"/>
<circle cx="669" cy="726" r="1.7" fill="#4f7ebb"/>
<circle cx="674.4" cy="726" r="1.7" fill="#4f7ebb"/>
<line x1="591.5" y1="675.9" x2="591.5" y2="787" stroke="#3a3a3a" stroke-width="1" />
<line x1="587.5" y1="676.4" x2="591.5" y2="676.4" stroke="#3a3a3a" stroke-width="1" />
<text x="584" y="679.36" font-size="7.4" text-anchor="end" fill="#0d0d0d" stroke="#0d0d0d" stroke-width="0.22" >80</text>
<line x1="587.5" y1="703.9" x2="591.5" y2="703.9" stroke="#3a3a3a" stroke-width="1" />
<text x="584" y="706.86" font-size="7.4" text-anchor="end" fill="#0d0d0d" stroke="#0d0d0d" stroke-width="0.22" >60</text>
<line x1="587.5" y1="731.4" x2="591.5" y2="731.4" stroke="#3a3a3a" stroke-width="1" />
<text x="584" y="734.36" font-size="7.4" text-anchor="end" fill="#0d0d0d" stroke="#0d0d0d" stroke-width="0.22" >40</text>
<line x1="587.5" y1="759" x2="591.5" y2="759" stroke="#3a3a3a" stroke-width="1" />
<text x="584" y="761.96" font-size="7.4" text-anchor="end" fill="#0d0d0d" stroke="#0d0d0d" stroke-width="0.22" >20</text>
<line x1="587.5" y1="786.5" x2="591.5" y2="786.5" stroke="#3a3a3a" stroke-width="1" />
<text x="584" y="789.46" font-size="7.4" text-anchor="end" fill="#0d0d0d" stroke="#0d0d0d" stroke-width="0.22" >0</text>
<line x1="591" y1="786.5" x2="685" y2="786.5" stroke="#3a3a3a" stroke-width="1" />
<line x1="612.6" y1="786.5" x2="612.6" y2="790.7" stroke="#3a3a3a" stroke-width="1" />
<line x1="661.6" y1="786.5" x2="661.6" y2="790.7" stroke="#3a3a3a" stroke-width="1" />
<text x="612.6" y="800.2" font-size="7.4" text-anchor="middle" fill="#0d0d0d" stroke="#0d0d0d" stroke-width="0.22" >Basal</text>
<text x="662" y="800.2" font-size="7.4" text-anchor="middle" fill="#0d0d0d" stroke="#0d0d0d" stroke-width="0.22" >FCCP</text>
<path d="M603.4 713V707.4H622V725.6" stroke="#2a2a2a" stroke-width="0.9" fill="none" />
<text x="613.6" y="704" font-size="7.5" text-anchor="middle" fill="#0d0d0d" stroke="#0d0d0d" stroke-width="0.22" >0.0127</text>
<path d="M652 694V688.4H670.4V716" stroke="#2a2a2a" stroke-width="0.9" fill="none" />
<text x="660" y="684.6" font-size="7.5" text-anchor="middle" fill="#0d0d0d" stroke="#0d0d0d" stroke-width="0.22" >&lt;0.0001</text>
</svg>
</body></html>
